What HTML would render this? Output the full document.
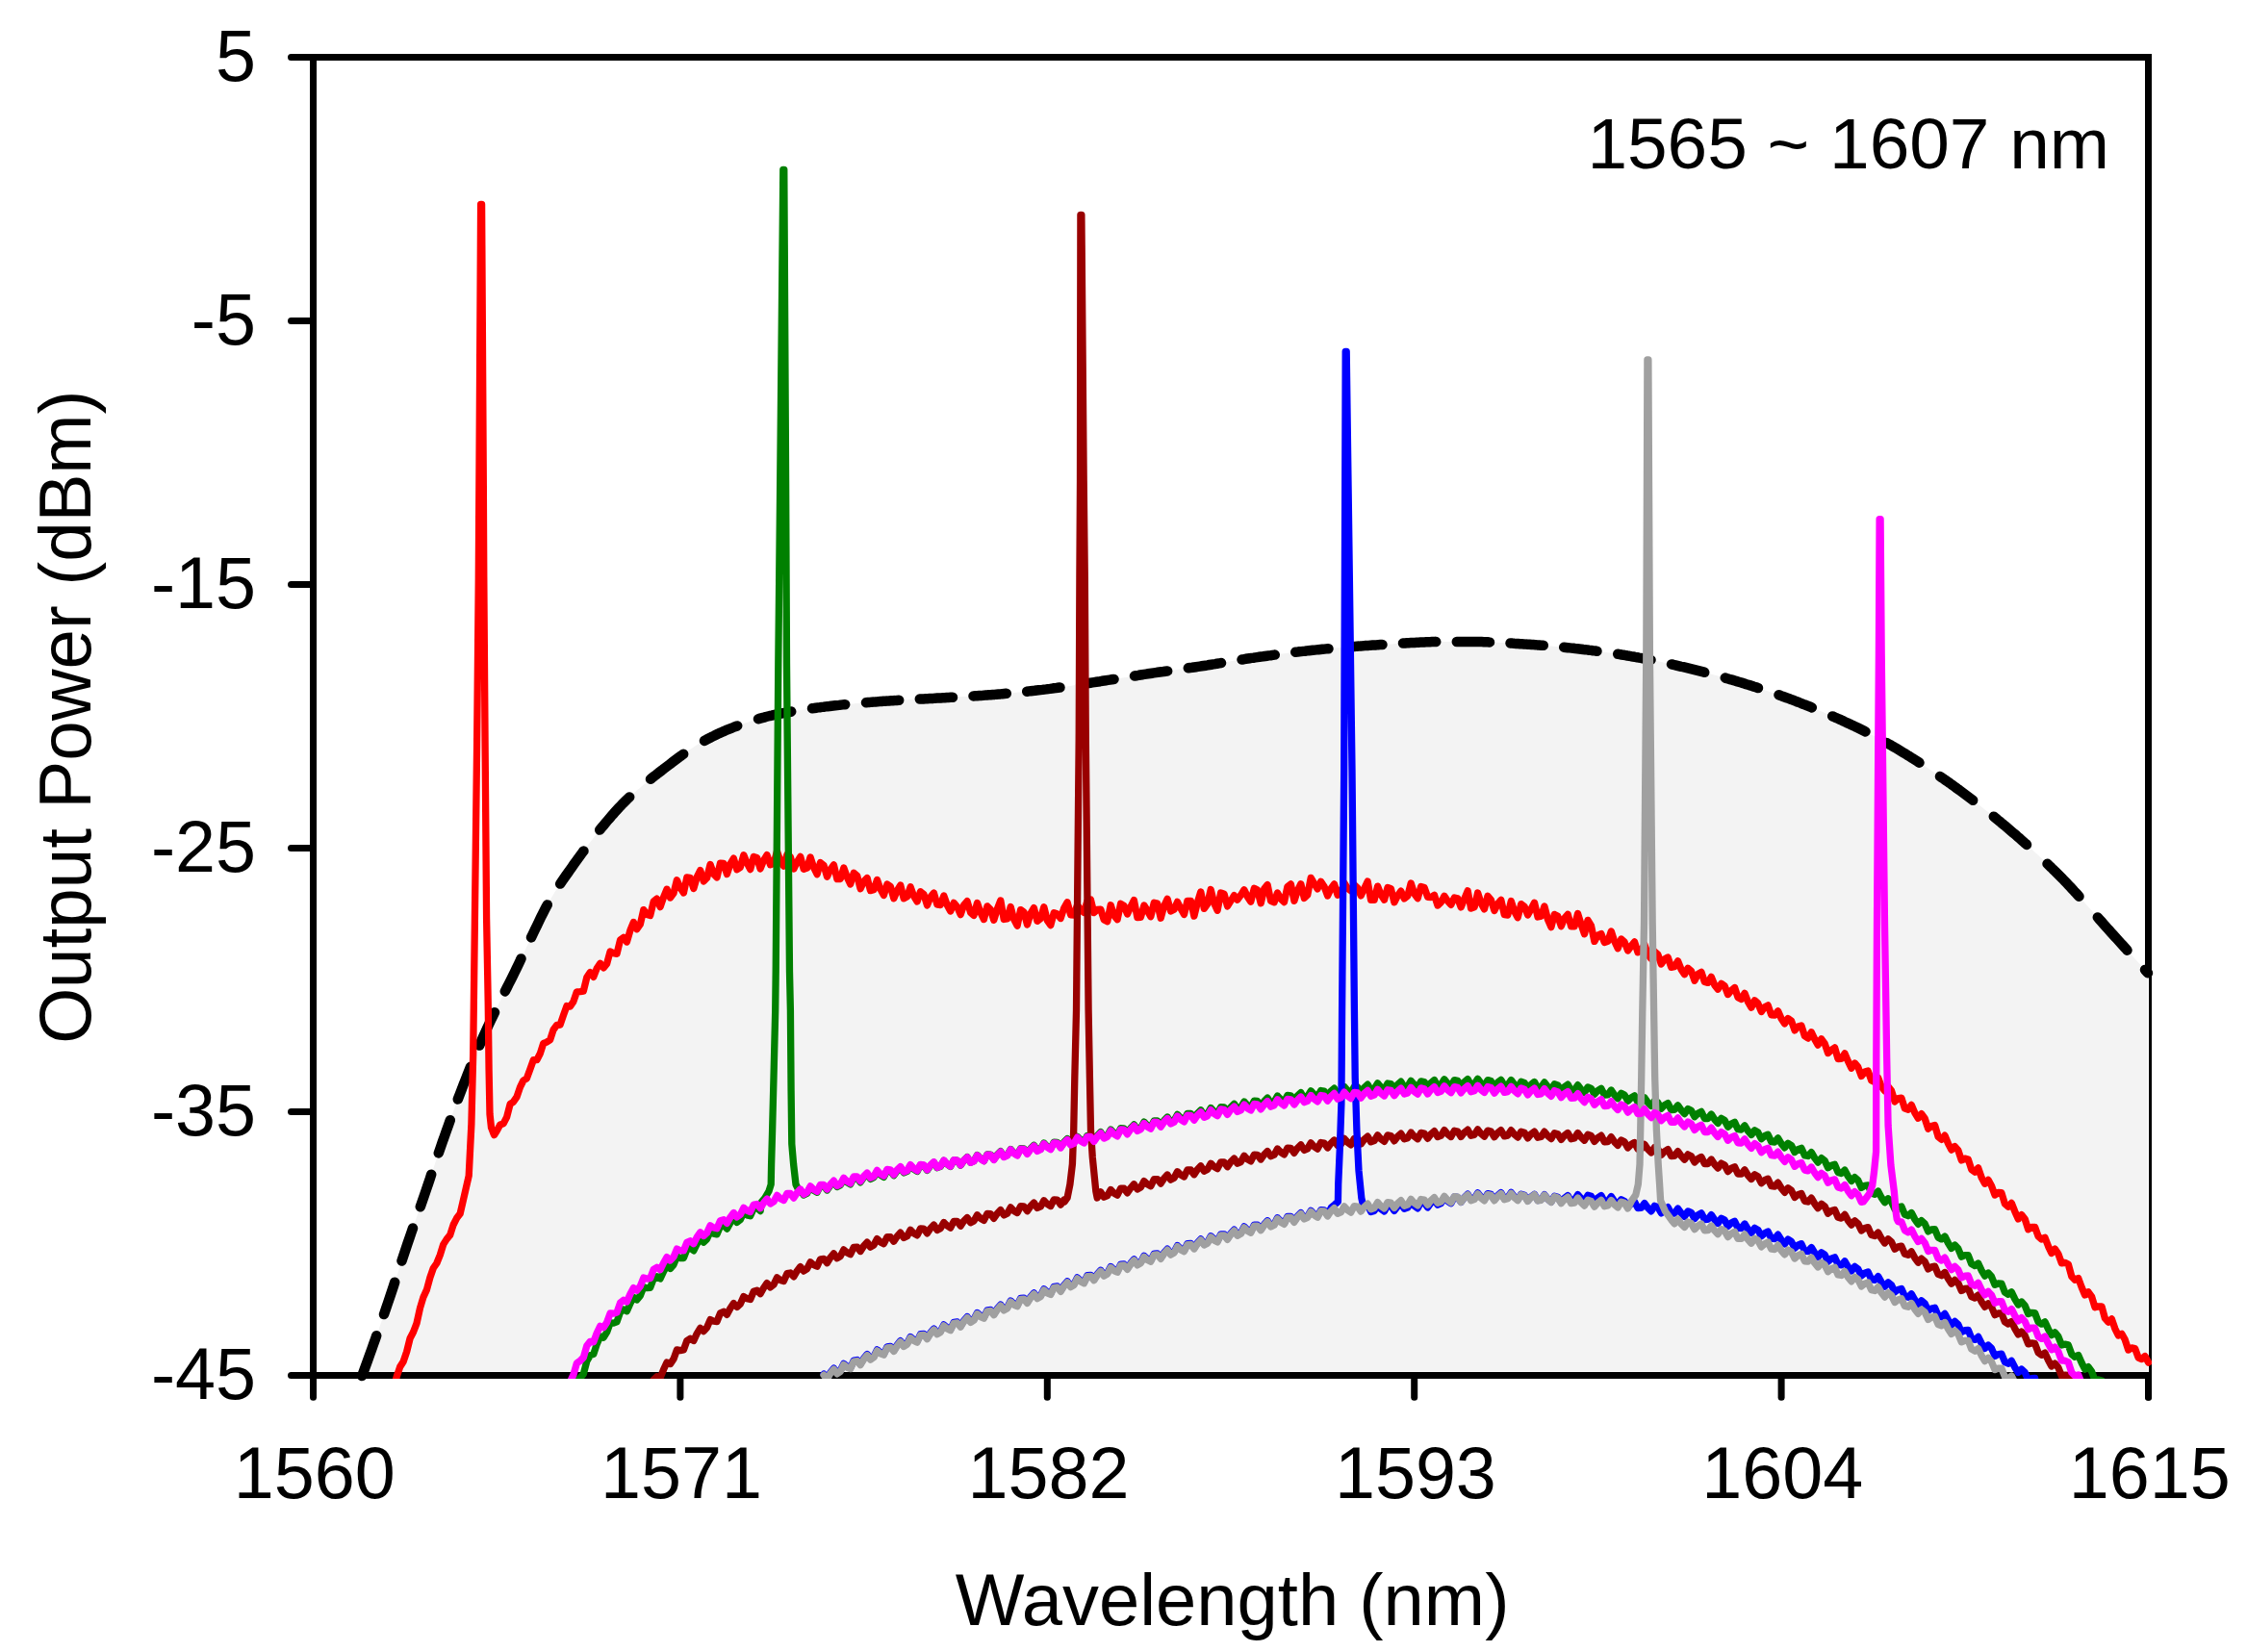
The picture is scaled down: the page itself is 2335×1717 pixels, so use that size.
<!DOCTYPE html>
<html lang="en"><head><meta charset="utf-8"><title>Output Power vs Wavelength</title>
<style>html,body{margin:0;padding:0;background:#fff}svg{display:block}</style></head>
<body>
<svg width="2335" height="1717" viewBox="0 0 2335 1717">
<rect width="2335" height="1717" fill="#fff"/>
<path d="M302.5,59.4 H2232.5 V1452.3" fill="none" stroke="#000" stroke-width="7" stroke-linecap="round" stroke-linejoin="miter"/>
<rect x="2228" y="1011" width="5" height="416" fill="#fff"/>
<path d="M376.3,1425.4 L376.3,1429.9 L378.3,1424.4 L380.3,1419.0 L382.3,1413.4 L384.3,1407.9 L386.3,1402.3 L388.3,1396.7 L390.3,1391.0 L392.3,1385.3 L394.3,1379.6 L396.3,1373.9 L398.3,1368.1 L400.3,1362.3 L402.3,1356.5 L404.3,1350.6 L406.3,1344.6 L408.3,1338.6 L410.3,1332.5 L412.3,1326.4 L414.3,1320.3 L416.3,1314.2 L418.3,1308.1 L420.3,1302.0 L422.3,1296.1 L424.3,1290.2 L426.3,1284.3 L428.3,1278.6 L430.3,1272.8 L432.3,1267.1 L434.3,1261.3 L436.3,1255.6 L438.3,1249.8 L440.3,1244.1 L442.3,1238.2 L444.3,1232.4 L446.3,1226.5 L448.3,1220.5 L450.3,1214.6 L452.3,1208.6 L454.3,1202.7 L456.3,1196.8 L458.3,1191.0 L460.3,1185.3 L462.3,1179.6 L464.3,1174.0 L466.3,1168.4 L468.3,1162.8 L470.3,1157.3 L472.3,1151.8 L474.3,1146.4 L476.3,1141.1 L478.3,1135.8 L480.3,1130.6 L482.3,1125.5 L484.3,1120.4 L486.3,1115.4 L488.3,1110.4 L490.3,1105.5 L492.3,1100.6 L494.3,1095.8 L496.3,1091.1 L498.3,1086.5 L500.3,1081.9 L502.3,1077.4 L504.3,1072.9 L506.3,1068.6 L508.3,1064.3 L510.3,1060.0 L512.3,1055.7 L514.3,1051.5 L516.3,1047.4 L518.3,1043.3 L520.3,1039.2 L522.3,1035.2 L524.3,1031.3 L526.3,1027.3 L528.3,1023.4 L530.3,1019.4 L532.3,1015.5 L534.3,1011.4 L536.3,1007.3 L538.3,1003.2 L540.3,999.0 L542.3,994.8 L544.3,990.5 L546.3,986.3 L548.3,982.1 L550.3,977.9 L552.3,973.8 L554.3,969.7 L556.3,965.5 L558.3,961.3 L560.3,957.1 L562.3,953.0 L564.3,949.0 L566.3,945.0 L568.3,941.2 L570.3,937.6 L572.3,934.2 L574.3,930.9 L576.3,927.6 L578.3,924.5 L580.3,921.5 L582.3,918.5 L584.3,915.6 L586.3,912.7 L588.3,909.8 L590.3,907.0 L592.3,904.2 L594.3,901.4 L596.3,898.6 L598.3,895.8 L600.3,893.0 L602.3,890.2 L604.3,887.4 L606.3,884.7 L608.3,882.0 L610.3,879.3 L612.3,876.6 L614.3,874.0 L616.3,871.4 L618.3,868.8 L620.3,866.3 L622.3,863.8 L624.3,861.3 L626.3,858.9 L628.3,856.5 L630.3,854.1 L632.3,851.8 L634.3,849.4 L636.3,847.1 L638.3,844.9 L640.3,842.6 L642.3,840.4 L644.3,838.3 L646.3,836.2 L648.3,834.1 L650.3,832.2 L652.3,830.2 L654.3,828.3 L656.3,826.5 L658.3,824.6 L660.3,822.9 L662.3,821.1 L664.3,819.4 L666.3,817.7 L668.3,816.0 L670.3,814.4 L672.3,812.7 L674.3,811.1 L676.3,809.5 L678.3,807.9 L680.3,806.4 L682.3,804.8 L684.3,803.3 L686.3,801.8 L688.3,800.2 L690.3,798.7 L692.3,797.2 L694.3,795.7 L696.3,794.1 L698.3,792.6 L700.3,791.1 L702.3,789.6 L704.3,788.1 L706.3,786.6 L708.3,785.1 L710.3,783.7 L712.3,782.3 L714.3,780.9 L716.3,779.5 L718.3,778.2 L720.3,776.8 L722.3,775.6 L724.3,774.3 L726.3,773.1 L728.3,772.0 L730.3,770.8 L732.3,769.7 L734.3,768.7 L736.3,767.6 L738.3,766.6 L740.3,765.6 L742.3,764.6 L744.3,763.6 L746.3,762.7 L748.3,761.8 L750.3,760.9 L752.3,760.0 L754.3,759.1 L756.3,758.3 L758.3,757.4 L760.3,756.6 L762.3,755.9 L764.3,755.1 L766.3,754.4 L768.3,753.6 L770.3,752.9 L772.3,752.2 L774.3,751.6 L776.3,750.9 L778.3,750.2 L780.3,749.6 L782.3,748.9 L784.3,748.3 L786.3,747.7 L788.3,747.1 L790.3,746.6 L792.3,746.0 L794.3,745.5 L796.3,745.0 L798.3,744.5 L800.3,744.0 L802.3,743.5 L804.3,743.1 L806.3,742.7 L808.3,742.3 L810.3,741.9 L812.3,741.5 L814.3,741.1 L816.3,740.7 L818.3,740.3 L820.3,740.0 L822.3,739.6 L824.3,739.3 L826.3,738.9 L828.3,738.6 L830.3,738.3 L832.3,738.0 L834.3,737.7 L836.3,737.4 L838.3,737.1 L840.3,736.8 L842.3,736.5 L844.3,736.2 L846.3,735.9 L848.3,735.7 L850.3,735.4 L852.3,735.1 L854.3,734.9 L856.3,734.6 L858.3,734.4 L860.3,734.2 L862.3,733.9 L864.3,733.7 L866.3,733.5 L868.3,733.3 L870.3,733.0 L872.3,732.8 L874.3,732.6 L876.3,732.4 L878.3,732.2 L880.3,732.0 L882.3,731.8 L884.3,731.6 L886.3,731.4 L888.3,731.2 L890.3,731.1 L892.3,730.9 L894.3,730.7 L896.3,730.5 L898.3,730.4 L900.3,730.2 L902.3,730.0 L904.3,729.9 L906.3,729.7 L908.3,729.5 L910.3,729.4 L912.3,729.2 L914.3,729.1 L916.3,729.0 L918.3,728.8 L920.3,728.7 L922.3,728.5 L924.3,728.4 L926.3,728.3 L928.3,728.2 L930.3,728.0 L932.3,727.9 L934.3,727.8 L936.3,727.7 L938.3,727.6 L940.3,727.5 L942.3,727.4 L944.3,727.3 L946.3,727.1 L948.3,727.0 L950.3,726.9 L952.3,726.8 L954.3,726.7 L956.3,726.6 L958.3,726.5 L960.3,726.4 L962.3,726.3 L964.3,726.2 L966.3,726.1 L968.3,725.9 L970.3,725.8 L972.3,725.7 L974.3,725.6 L976.3,725.5 L978.3,725.4 L980.3,725.2 L982.3,725.1 L984.3,725.0 L986.3,724.9 L988.3,724.8 L990.3,724.7 L992.3,724.6 L994.3,724.4 L996.3,724.3 L998.3,724.2 L1000.3,724.1 L1002.3,724.0 L1004.3,723.9 L1006.3,723.8 L1008.3,723.6 L1010.3,723.5 L1012.3,723.4 L1014.3,723.3 L1016.3,723.1 L1018.3,723.0 L1020.3,722.9 L1022.3,722.7 L1024.3,722.6 L1026.3,722.4 L1028.3,722.3 L1030.3,722.1 L1032.3,722.0 L1034.3,721.8 L1036.3,721.6 L1038.3,721.5 L1040.3,721.3 L1042.3,721.1 L1044.3,720.9 L1046.3,720.8 L1048.3,720.6 L1050.3,720.4 L1052.3,720.2 L1054.3,720.0 L1056.3,719.8 L1058.3,719.6 L1060.3,719.4 L1062.3,719.2 L1064.3,719.0 L1066.3,718.8 L1068.3,718.5 L1070.3,718.3 L1072.3,718.1 L1074.3,717.9 L1076.3,717.7 L1078.3,717.4 L1080.3,717.2 L1082.3,717.0 L1084.3,716.7 L1086.3,716.5 L1088.3,716.2 L1090.3,716.0 L1092.3,715.7 L1094.3,715.5 L1096.3,715.2 L1098.3,714.9 L1100.3,714.7 L1102.3,714.4 L1104.3,714.1 L1106.3,713.8 L1108.3,713.5 L1110.3,713.2 L1112.3,712.9 L1114.3,712.6 L1116.3,712.3 L1118.3,712.0 L1120.3,711.7 L1122.3,711.4 L1124.3,711.1 L1126.3,710.8 L1128.3,710.5 L1130.3,710.1 L1132.3,709.8 L1134.3,709.5 L1136.3,709.2 L1138.3,708.9 L1140.3,708.6 L1142.3,708.3 L1144.3,708.0 L1146.3,707.7 L1148.3,707.4 L1150.3,707.1 L1152.3,706.8 L1154.3,706.4 L1156.3,706.1 L1158.3,705.8 L1160.3,705.5 L1162.3,705.2 L1164.3,704.9 L1166.3,704.5 L1168.3,704.2 L1170.3,703.9 L1172.3,703.6 L1174.3,703.2 L1176.3,702.9 L1178.3,702.6 L1180.3,702.3 L1182.3,702.0 L1184.3,701.7 L1186.3,701.3 L1188.3,701.0 L1190.3,700.7 L1192.3,700.4 L1194.3,700.1 L1196.3,699.8 L1198.3,699.5 L1200.3,699.2 L1202.3,698.9 L1204.3,698.6 L1206.3,698.3 L1208.3,698.1 L1210.3,697.8 L1212.3,697.5 L1214.3,697.2 L1216.3,696.9 L1218.3,696.6 L1220.3,696.4 L1222.3,696.1 L1224.3,695.8 L1226.3,695.5 L1228.3,695.2 L1230.3,695.0 L1232.3,694.7 L1234.3,694.4 L1236.3,694.1 L1238.3,693.8 L1240.3,693.5 L1242.3,693.2 L1244.3,692.9 L1246.3,692.6 L1248.3,692.3 L1250.3,692.0 L1252.3,691.7 L1254.3,691.4 L1256.3,691.1 L1258.3,690.8 L1260.3,690.5 L1262.3,690.1 L1264.3,689.8 L1266.3,689.5 L1268.3,689.1 L1270.3,688.8 L1272.3,688.5 L1274.3,688.1 L1276.3,687.8 L1278.3,687.5 L1280.3,687.1 L1282.3,686.8 L1284.3,686.5 L1286.3,686.1 L1288.3,685.8 L1290.3,685.5 L1292.3,685.2 L1294.3,684.9 L1296.3,684.6 L1298.3,684.3 L1300.3,684.0 L1302.3,683.7 L1304.3,683.4 L1306.3,683.1 L1308.3,682.8 L1310.3,682.6 L1312.3,682.3 L1314.3,682.0 L1316.3,681.7 L1318.3,681.5 L1320.3,681.2 L1322.3,680.9 L1324.3,680.6 L1326.3,680.4 L1328.3,680.1 L1330.3,679.8 L1332.3,679.6 L1334.3,679.3 L1336.3,679.1 L1338.3,678.8 L1340.3,678.6 L1342.3,678.3 L1344.3,678.1 L1346.3,677.8 L1348.3,677.6 L1350.3,677.3 L1352.3,677.1 L1354.3,676.9 L1356.3,676.6 L1358.3,676.4 L1360.3,676.2 L1362.3,676.0 L1364.3,675.8 L1366.3,675.6 L1368.3,675.4 L1370.3,675.2 L1372.3,675.0 L1374.3,674.8 L1376.3,674.6 L1378.3,674.4 L1380.3,674.2 L1382.3,674.0 L1384.3,673.9 L1386.3,673.7 L1388.3,673.5 L1390.3,673.3 L1392.3,673.2 L1394.3,673.0 L1396.3,672.8 L1398.3,672.7 L1400.3,672.5 L1402.3,672.3 L1404.3,672.2 L1406.3,672.0 L1408.3,671.9 L1410.3,671.7 L1412.3,671.6 L1414.3,671.4 L1416.3,671.3 L1418.3,671.1 L1420.3,671.0 L1422.3,670.9 L1424.3,670.7 L1426.3,670.6 L1428.3,670.5 L1430.3,670.3 L1432.3,670.2 L1434.3,670.1 L1436.3,670.0 L1438.3,669.9 L1440.3,669.7 L1442.3,669.6 L1444.3,669.5 L1446.3,669.4 L1448.3,669.2 L1450.3,669.1 L1452.3,669.0 L1454.3,668.8 L1456.3,668.7 L1458.3,668.6 L1460.3,668.5 L1462.3,668.3 L1464.3,668.2 L1466.3,668.1 L1468.3,668.0 L1470.3,667.9 L1472.3,667.8 L1474.3,667.7 L1476.3,667.6 L1478.3,667.5 L1480.3,667.4 L1482.3,667.3 L1484.3,667.2 L1486.3,667.2 L1488.3,667.1 L1490.3,667.1 L1492.3,667.0 L1494.3,667.0 L1496.3,667.0 L1498.3,667.0 L1500.3,667.0 L1502.3,667.0 L1504.3,667.0 L1506.3,667.0 L1508.3,667.0 L1510.3,667.0 L1512.3,667.0 L1514.3,667.0 L1516.3,667.0 L1518.3,667.0 L1520.3,667.0 L1522.3,667.0 L1524.3,667.0 L1526.3,667.0 L1528.3,667.0 L1530.3,667.0 L1532.3,667.0 L1534.3,667.0 L1536.3,667.1 L1538.3,667.1 L1540.3,667.1 L1542.3,667.2 L1544.3,667.3 L1546.3,667.3 L1548.3,667.4 L1550.3,667.5 L1552.3,667.6 L1554.3,667.7 L1556.3,667.8 L1558.3,667.9 L1560.3,668.0 L1562.3,668.1 L1564.3,668.2 L1566.3,668.3 L1568.3,668.4 L1570.3,668.6 L1572.3,668.7 L1574.3,668.8 L1576.3,669.0 L1578.3,669.1 L1580.3,669.2 L1582.3,669.4 L1584.3,669.5 L1586.3,669.6 L1588.3,669.8 L1590.3,669.9 L1592.3,670.0 L1594.3,670.2 L1596.3,670.3 L1598.3,670.4 L1600.3,670.6 L1602.3,670.7 L1604.3,670.9 L1606.3,671.0 L1608.3,671.2 L1610.3,671.4 L1612.3,671.6 L1614.3,671.7 L1616.3,671.9 L1618.3,672.1 L1620.3,672.3 L1622.3,672.5 L1624.3,672.7 L1626.3,672.9 L1628.3,673.1 L1630.3,673.3 L1632.3,673.5 L1634.3,673.7 L1636.3,674.0 L1638.3,674.2 L1640.3,674.4 L1642.3,674.6 L1644.3,674.9 L1646.3,675.1 L1648.3,675.3 L1650.3,675.6 L1652.3,675.8 L1654.3,676.0 L1656.3,676.3 L1658.3,676.5 L1660.3,676.8 L1662.3,677.1 L1664.3,677.3 L1666.3,677.6 L1668.3,677.9 L1670.3,678.2 L1672.3,678.5 L1674.3,678.8 L1676.3,679.1 L1678.3,679.4 L1680.3,679.7 L1682.3,680.0 L1684.3,680.3 L1686.3,680.6 L1688.3,681.0 L1690.3,681.3 L1692.3,681.6 L1694.3,682.0 L1696.3,682.3 L1698.3,682.7 L1700.3,683.0 L1702.3,683.4 L1704.3,683.8 L1706.3,684.1 L1708.3,684.5 L1710.3,684.9 L1712.3,685.2 L1714.3,685.6 L1716.3,686.0 L1718.3,686.4 L1720.3,686.8 L1722.3,687.2 L1724.3,687.6 L1726.3,688.1 L1728.3,688.5 L1730.3,688.9 L1732.3,689.4 L1734.3,689.8 L1736.3,690.3 L1738.3,690.7 L1740.3,691.2 L1742.3,691.6 L1744.3,692.1 L1746.3,692.6 L1748.3,693.1 L1750.3,693.5 L1752.3,694.0 L1754.3,694.5 L1756.3,695.0 L1758.3,695.5 L1760.3,696.0 L1762.3,696.5 L1764.3,697.0 L1766.3,697.5 L1768.3,698.0 L1770.3,698.6 L1772.3,699.1 L1774.3,699.6 L1776.3,700.1 L1778.3,700.7 L1780.3,701.2 L1782.3,701.7 L1784.3,702.3 L1786.3,702.8 L1788.3,703.4 L1790.3,703.9 L1792.3,704.5 L1794.3,705.1 L1796.3,705.6 L1798.3,706.2 L1800.3,706.8 L1802.3,707.4 L1804.3,708.0 L1806.3,708.6 L1808.3,709.2 L1810.3,709.8 L1812.3,710.4 L1814.3,711.0 L1816.3,711.6 L1818.3,712.3 L1820.3,712.9 L1822.3,713.5 L1824.3,714.2 L1826.3,714.8 L1828.3,715.5 L1830.3,716.1 L1832.3,716.8 L1834.3,717.4 L1836.3,718.1 L1838.3,718.8 L1840.3,719.5 L1842.3,720.1 L1844.3,720.8 L1846.3,721.5 L1848.3,722.2 L1850.3,723.0 L1852.3,723.7 L1854.3,724.4 L1856.3,725.1 L1858.3,725.9 L1860.3,726.6 L1862.3,727.4 L1864.3,728.1 L1866.3,728.9 L1868.3,729.6 L1870.3,730.4 L1872.3,731.2 L1874.3,732.0 L1876.3,732.8 L1878.3,733.6 L1880.3,734.4 L1882.3,735.2 L1884.3,736.0 L1886.3,736.8 L1888.3,737.6 L1890.3,738.5 L1892.3,739.3 L1894.3,740.1 L1896.3,741.0 L1898.3,741.8 L1900.3,742.7 L1902.3,743.5 L1904.3,744.4 L1906.3,745.3 L1908.3,746.2 L1910.3,747.1 L1912.3,748.0 L1914.3,748.9 L1916.3,749.8 L1918.3,750.7 L1920.3,751.6 L1922.3,752.6 L1924.3,753.5 L1926.3,754.4 L1928.3,755.4 L1930.3,756.4 L1932.3,757.3 L1934.3,758.3 L1936.3,759.3 L1938.3,760.3 L1940.3,761.3 L1942.3,762.3 L1944.3,763.4 L1946.3,764.4 L1948.3,765.4 L1950.3,766.5 L1952.3,767.6 L1954.3,768.6 L1956.3,769.7 L1958.3,770.8 L1960.3,771.9 L1962.3,773.0 L1964.3,774.2 L1966.3,775.3 L1968.3,776.5 L1970.3,777.6 L1972.3,778.8 L1974.3,780.0 L1976.3,781.2 L1978.3,782.4 L1980.3,783.7 L1982.3,784.9 L1984.3,786.2 L1986.3,787.4 L1988.3,788.7 L1990.3,790.0 L1992.3,791.2 L1994.3,792.5 L1996.3,793.8 L1998.3,795.1 L2000.3,796.5 L2002.3,797.8 L2004.3,799.1 L2006.3,800.4 L2008.3,801.8 L2010.3,803.1 L2012.3,804.5 L2014.3,805.8 L2016.3,807.2 L2018.3,808.6 L2020.3,810.0 L2022.3,811.3 L2024.3,812.7 L2026.3,814.2 L2028.3,815.6 L2030.3,817.0 L2032.3,818.4 L2034.3,819.9 L2036.3,821.4 L2038.3,822.8 L2040.3,824.3 L2042.3,825.8 L2044.3,827.3 L2046.3,828.8 L2048.3,830.3 L2050.3,831.8 L2052.3,833.4 L2054.3,834.9 L2056.3,836.4 L2058.3,838.0 L2060.3,839.6 L2062.3,841.2 L2064.3,842.7 L2066.3,844.3 L2068.3,845.9 L2070.3,847.5 L2072.3,849.2 L2074.3,850.8 L2076.3,852.4 L2078.3,854.1 L2080.3,855.7 L2082.3,857.4 L2084.3,859.1 L2086.3,860.7 L2088.3,862.4 L2090.3,864.1 L2092.3,865.9 L2094.3,867.6 L2096.3,869.3 L2098.3,871.1 L2100.3,872.8 L2102.3,874.6 L2104.3,876.3 L2106.3,878.1 L2108.3,879.9 L2110.3,881.7 L2112.3,883.6 L2114.3,885.4 L2116.3,887.2 L2118.3,889.1 L2120.3,891.0 L2122.3,892.8 L2124.3,894.7 L2126.3,896.6 L2128.3,898.5 L2130.3,900.5 L2132.3,902.4 L2134.3,904.4 L2136.3,906.3 L2138.3,908.3 L2140.3,910.3 L2142.3,912.3 L2144.3,914.4 L2146.3,916.4 L2148.3,918.5 L2150.3,920.7 L2152.3,922.8 L2154.3,925.0 L2156.3,927.1 L2158.3,929.3 L2160.3,931.5 L2162.3,933.7 L2164.3,936.0 L2166.3,938.2 L2168.3,940.4 L2170.3,942.7 L2172.3,945.0 L2174.3,947.2 L2176.3,949.5 L2178.3,951.8 L2180.3,954.0 L2182.3,956.3 L2184.3,958.6 L2186.3,960.8 L2188.3,963.1 L2190.3,965.3 L2192.3,967.6 L2194.3,969.8 L2196.3,972.0 L2198.3,974.2 L2200.3,976.4 L2202.3,978.6 L2204.3,980.8 L2206.3,983.0 L2208.3,985.2 L2210.3,987.4 L2212.3,989.6 L2214.3,991.8 L2216.3,994.0 L2218.3,996.2 L2220.3,998.4 L2222.3,1000.6 L2224.3,1002.8 L2226.3,1005.0 L2228.3,1007.2 L2230.3,1009.4 L2231.7,1010.0 L2231.7,1425.4Z" fill="#f3f3f3"/>
<g stroke="#000" stroke-width="7" stroke-linecap="round" fill="none">
<path d="M325.5,59.4 V1452.3"/>
<path d="M302.5,1429.6 H2232.5"/>
<path d="M302.5,333.4 H325.5"/>
<path d="M302.5,607.5 H325.5"/>
<path d="M302.5,881.5 H325.5"/>
<path d="M302.5,1155.6 H325.5"/>
<path d="M706.9,1429.6 V1452.3"/>
<path d="M1088.3,1429.6 V1452.3"/>
<path d="M1469.7,1429.6 V1452.3"/>
<path d="M1851.1,1429.6 V1452.3"/>
<path d="M2232.5,1429.6 V1452.3"/>
</g>
<path d="M376.2,1430.0 L378.2,1424.6 L380.2,1419.1 L382.2,1413.6 L384.2,1408.0 L386.2,1402.4 L388.2,1396.8 L390.2,1391.2 L391.2,1388.3 M399.0,1366.1 L401.0,1360.3 L403.0,1354.4 L405.0,1348.5 L407.0,1342.5 L409.0,1336.5 L410.2,1332.7 M417.5,1310.5 L419.5,1304.5 L421.5,1298.5 L423.5,1292.5 L425.5,1286.7 L427.5,1280.9 L429.0,1276.5 M436.8,1254.3 L438.8,1248.5 L440.8,1242.8 L442.8,1236.9 L444.8,1231.0 L446.8,1225.1 L448.2,1220.7 M455.8,1198.4 L457.8,1192.6 L459.8,1186.8 L461.8,1181.2 L463.8,1175.5 L465.8,1169.9 L467.8,1164.3 L467.8,1164.3 M475.8,1142.5 L477.8,1137.3 L479.8,1132.1 L481.8,1126.9 L483.8,1121.8 L485.8,1116.8 L487.8,1111.8 L489.0,1108.7 M498.2,1086.6 L500.2,1082.0 L502.2,1077.5 L504.2,1073.1 L506.2,1068.7 L508.2,1064.4 L510.2,1060.1 L512.2,1055.9 L514.0,1052.2 M524.8,1030.4 L526.8,1026.5 L528.8,1022.5 L530.8,1018.6 L532.8,1014.6 L534.8,1010.5 L536.8,1006.4 L538.8,1002.2 L540.8,998.0 L541.5,996.4 M552.0,974.4 L554.0,970.3 L556.0,966.1 L558.0,961.9 L560.0,957.8 L562.0,953.6 L564.0,949.6 L566.0,945.6 L568.0,941.8 L568.8,940.4 M582.2,918.6 L584.2,915.6 L586.2,912.7 L588.2,909.9 L590.2,907.1 L592.2,904.3 L594.2,901.5 L596.2,898.6 L598.2,895.8 L600.2,893.0 L602.2,890.2 L604.2,887.5 L606.2,884.7 L606.5,884.4 M623.2,862.6 L625.2,860.2 L627.2,857.8 L629.2,855.4 L631.2,853.0 L633.2,850.7 L635.2,848.3 L637.2,846.1 L639.2,843.8 L641.2,841.6 L643.2,839.4 L645.2,837.3 L647.2,835.2 L649.2,833.2 L651.2,831.2 L653.2,829.3 L654.2,828.4 M676.0,809.8 L678.0,808.2 L680.0,806.6 L682.0,805.1 L684.0,803.5 L686.0,802.0 L688.0,800.5 L690.0,798.9 L692.0,797.4 L694.0,795.9 L696.0,794.4 L698.0,792.8 L700.0,791.3 L702.0,789.8 L704.0,788.3 L706.0,786.8 L708.0,785.4 L710.0,783.9 L710.2,783.7 M732.0,769.9 L734.0,768.8 L736.0,767.8 L738.0,766.8 L740.0,765.7 L742.0,764.8 L744.0,763.8 L746.0,762.8 L748.0,761.9 L750.0,761.0 L752.0,760.1 L754.0,759.2 L756.0,758.4 L758.0,757.6 L760.0,756.8 L762.0,756.0 L764.0,755.2 L766.0,754.5 L766.2,754.4 M788.0,747.2 L790.0,746.6 L792.0,746.1 L794.0,745.6 L796.0,745.0 L798.0,744.5 L800.0,744.0 L802.0,743.6 L804.0,743.1 L806.0,742.7 L808.0,742.3 L810.0,741.9 L812.0,741.5 L814.0,741.1 L816.0,740.8 L818.0,740.4 L820.0,740.0 L822.0,739.7 L822.2,739.6 M844.0,736.2 L846.0,736.0 L848.0,735.7 L850.0,735.4 L852.0,735.2 L854.0,734.9 L856.0,734.7 L858.0,734.4 L860.0,734.2 L862.0,734.0 L864.0,733.7 L866.0,733.5 L868.0,733.3 L870.0,733.1 L872.0,732.9 L874.0,732.6 L876.0,732.4 L878.0,732.2 L878.2,732.2 M900.0,730.2 L902.0,730.0 L904.0,729.9 L906.0,729.7 L908.0,729.6 L910.0,729.4 L912.0,729.3 L914.0,729.1 L916.0,729.0 L918.0,728.8 L920.0,728.7 L922.0,728.6 L924.0,728.4 L926.0,728.3 L928.0,728.2 L930.0,728.1 L932.0,727.9 L934.0,727.8 L934.2,727.8 M955.8,726.6 L957.8,726.5 L959.8,726.4 L961.8,726.3 L963.8,726.2 L965.8,726.1 L967.8,726.0 L969.8,725.9 L971.8,725.7 L973.8,725.6 L975.8,725.5 L977.8,725.4 L979.8,725.3 L981.8,725.2 L983.8,725.0 L985.8,724.9 L987.8,724.8 L989.8,724.7 L990.0,724.7 M1011.5,723.4 L1013.5,723.3 L1015.5,723.2 L1017.5,723.0 L1019.5,722.9 L1021.5,722.8 L1023.5,722.6 L1025.5,722.5 L1027.5,722.3 L1029.5,722.2 L1031.5,722.0 L1033.5,721.9 L1035.5,721.7 L1037.5,721.5 L1039.5,721.4 L1041.5,721.2 L1043.5,721.0 L1045.5,720.8 L1045.8,720.8 M1067.2,718.7 L1069.2,718.4 L1071.2,718.2 L1073.2,718.0 L1075.2,717.8 L1077.2,717.5 L1079.2,717.3 L1081.2,717.1 L1083.2,716.9 L1085.2,716.6 L1087.2,716.4 L1089.2,716.1 L1091.2,715.9 L1093.2,715.6 L1095.2,715.3 L1097.2,715.1 L1099.2,714.8 L1101.2,714.5 L1101.5,714.5 M1123.2,711.2 L1125.2,710.9 L1127.2,710.6 L1129.2,710.3 L1131.2,710.0 L1133.2,709.7 L1135.2,709.4 L1137.2,709.1 L1139.2,708.8 L1141.2,708.5 L1143.2,708.2 L1145.2,707.8 L1147.2,707.5 L1149.2,707.2 L1151.2,706.9 L1153.2,706.6 L1155.2,706.3 L1157.2,706.0 L1157.5,705.9 M1179.0,702.5 L1181.0,702.2 L1183.0,701.9 L1185.0,701.5 L1187.0,701.2 L1189.0,700.9 L1191.0,700.6 L1193.0,700.3 L1195.0,700.0 L1197.0,699.7 L1199.0,699.4 L1201.0,699.1 L1203.0,698.8 L1205.0,698.5 L1207.0,698.2 L1209.0,698.0 L1211.0,697.7 L1213.0,697.4 L1213.2,697.4 M1234.8,694.3 L1236.8,694.0 L1238.8,693.8 L1240.8,693.5 L1242.8,693.2 L1244.8,692.9 L1246.8,692.6 L1248.8,692.3 L1250.8,692.0 L1252.8,691.7 L1254.8,691.4 L1256.8,691.0 L1258.8,690.7 L1260.8,690.4 L1262.8,690.1 L1264.8,689.7 L1266.8,689.4 L1268.8,689.1 L1269.0,689.0 M1290.5,685.5 L1292.5,685.2 L1294.5,684.8 L1296.5,684.5 L1298.5,684.2 L1300.5,683.9 L1302.5,683.7 L1304.5,683.4 L1306.5,683.1 L1308.5,682.8 L1310.5,682.5 L1312.5,682.3 L1314.5,682.0 L1316.5,681.7 L1318.5,681.4 L1320.5,681.2 L1322.5,680.9 L1324.5,680.6 L1324.8,680.6 M1346.2,677.8 L1348.2,677.6 L1350.2,677.3 L1352.2,677.1 L1354.2,676.9 L1356.2,676.7 L1358.2,676.4 L1360.2,676.2 L1362.2,676.0 L1364.2,675.8 L1366.2,675.6 L1368.2,675.4 L1370.2,675.2 L1372.2,675.0 L1374.2,674.8 L1376.2,674.6 L1378.2,674.4 L1380.2,674.2 L1380.5,674.2 M1402.2,672.3 L1404.2,672.2 L1406.2,672.0 L1408.2,671.9 L1410.2,671.7 L1412.2,671.6 L1414.2,671.4 L1416.2,671.3 L1418.2,671.1 L1420.2,671.0 L1422.2,670.9 L1424.2,670.7 L1426.2,670.6 L1428.2,670.5 L1430.2,670.4 L1432.2,670.2 L1434.2,670.1 L1436.2,670.0 L1436.5,670.0 M1458.0,668.6 L1460.0,668.5 L1462.0,668.3 L1464.0,668.2 L1466.0,668.1 L1468.0,668.0 L1470.0,667.9 L1472.0,667.8 L1474.0,667.7 L1476.0,667.6 L1478.0,667.5 L1480.0,667.4 L1482.0,667.3 L1484.0,667.3 L1486.0,667.2 L1488.0,667.1 L1490.0,667.1 L1492.0,667.1 L1492.2,667.0 M1513.8,667.0 L1515.8,667.0 L1517.8,667.0 L1519.8,667.0 L1521.8,667.0 L1523.8,667.0 L1525.8,667.0 L1527.8,667.0 L1529.8,667.0 L1531.8,667.0 L1533.8,667.0 L1535.8,667.0 L1537.8,667.1 L1539.8,667.1 L1541.8,667.2 L1543.8,667.2 L1545.8,667.3 L1547.8,667.4 L1548.0,667.4 M1569.5,668.5 L1571.5,668.6 L1573.5,668.8 L1575.5,668.9 L1577.5,669.0 L1579.5,669.2 L1581.5,669.3 L1583.5,669.4 L1585.5,669.6 L1587.5,669.7 L1589.5,669.8 L1591.5,670.0 L1593.5,670.1 L1595.5,670.2 L1597.5,670.4 L1599.5,670.5 L1601.5,670.7 L1603.5,670.8 L1603.8,670.8 M1625.2,672.8 L1627.2,673.0 L1629.2,673.2 L1631.2,673.4 L1633.2,673.6 L1635.2,673.8 L1637.2,674.1 L1639.2,674.3 L1641.2,674.5 L1643.2,674.7 L1645.2,675.0 L1647.2,675.2 L1649.2,675.4 L1651.2,675.7 L1653.2,675.9 L1655.2,676.2 L1657.2,676.4 L1659.2,676.7 L1659.5,676.7 M1681.2,679.8 L1683.2,680.1 L1685.2,680.5 L1687.2,680.8 L1689.2,681.1 L1691.2,681.5 L1693.2,681.8 L1695.2,682.2 L1697.2,682.5 L1699.2,682.9 L1701.2,683.2 L1703.2,683.6 L1705.2,683.9 L1707.2,684.3 L1709.2,684.7 L1711.2,685.0 L1713.2,685.4 L1715.2,685.8 L1715.5,685.9 M1737.0,690.4 L1739.0,690.9 L1741.0,691.3 L1743.0,691.8 L1745.0,692.3 L1747.0,692.8 L1749.0,693.2 L1751.0,693.7 L1753.0,694.2 L1755.0,694.7 L1757.0,695.2 L1759.0,695.7 L1761.0,696.2 L1763.0,696.7 L1765.0,697.2 L1767.0,697.7 L1769.0,698.2 L1771.0,698.7 L1771.2,698.8 M1792.8,704.6 L1794.8,705.2 L1796.8,705.8 L1798.8,706.3 L1800.8,706.9 L1802.8,707.5 L1804.8,708.1 L1806.8,708.7 L1808.8,709.3 L1810.8,709.9 L1812.8,710.5 L1814.8,711.2 L1816.8,711.8 L1818.8,712.4 L1820.8,713.0 L1822.8,713.7 L1824.8,714.3 L1826.8,715.0 L1827.0,715.0 M1848.5,722.3 L1850.5,723.0 L1852.5,723.8 L1854.5,724.5 L1856.5,725.2 L1858.5,725.9 L1860.5,726.7 L1862.5,727.4 L1864.5,728.2 L1866.5,729.0 L1868.5,729.7 L1870.5,730.5 L1872.5,731.3 L1874.5,732.1 L1876.5,732.8 L1878.5,733.6 L1880.5,734.4 L1882.5,735.3 L1882.8,735.4 M1904.2,744.4 L1906.2,745.3 L1908.2,746.2 L1910.2,747.0 L1912.2,747.9 L1914.2,748.8 L1916.2,749.8 L1918.2,750.7 L1920.2,751.6 L1922.2,752.5 L1924.2,753.5 L1926.2,754.4 L1928.2,755.4 L1930.2,756.3 L1932.2,757.3 L1934.2,758.3 L1936.2,759.3 L1938.2,760.3 L1938.5,760.4 M1960.2,771.9 L1962.2,773.0 L1964.2,774.1 L1966.2,775.3 L1968.2,776.4 L1970.2,777.6 L1972.2,778.8 L1974.2,780.0 L1976.2,781.2 L1978.2,782.4 L1980.2,783.6 L1982.2,784.9 L1984.2,786.1 L1986.2,787.4 L1988.2,788.6 L1990.2,789.9 L1992.2,791.2 L1994.2,792.5 L1994.5,792.7 M2016.0,807.0 L2018.0,808.4 L2020.0,809.7 L2022.0,811.1 L2024.0,812.5 L2026.0,813.9 L2028.0,815.4 L2030.0,816.8 L2032.0,818.2 L2034.0,819.7 L2036.0,821.1 L2038.0,822.6 L2040.0,824.1 L2042.0,825.6 L2044.0,827.1 L2046.0,828.6 L2048.0,830.1 L2050.0,831.6 L2050.2,831.8 M2071.8,848.7 L2073.8,850.3 L2075.8,852.0 L2077.8,853.6 L2079.8,855.3 L2081.8,856.9 L2083.8,858.6 L2085.8,860.3 L2087.8,862.0 L2089.8,863.7 L2091.8,865.4 L2093.8,867.1 L2095.8,868.8 L2097.8,870.6 L2099.8,872.3 L2101.8,874.1 L2103.8,875.9 L2105.8,877.6 L2106.0,877.9 M2127.5,897.8 L2129.5,899.7 L2131.5,901.6 L2133.5,903.6 L2135.5,905.5 L2137.5,907.5 L2139.5,909.5 L2141.5,911.5 L2143.5,913.5 L2145.5,915.6 L2147.5,917.7 L2149.5,919.8 L2151.5,921.9 L2153.5,924.1 L2155.5,926.3 L2157.5,928.4 L2159.5,930.6 L2160.5,931.7 M2179.8,953.4 L2181.8,955.7 L2183.8,957.9 L2185.8,960.2 L2187.8,962.5 L2189.8,964.7 L2191.8,966.9 L2193.8,969.2 L2195.8,971.4 L2197.8,973.6 L2199.8,975.8 L2201.8,978.0 L2203.8,980.2 L2205.8,982.4 L2207.8,984.6 L2209.8,986.8 L2210.5,987.7 M2229.0,1008.0 L2231.0,1010.2 L2232.0,1011.3" stroke="#000" stroke-width="10.5" fill="none" stroke-linecap="round" stroke-linejoin="round"/>
<clipPath id="c"><rect x="325.5" y="59.4" width="1910.6" height="1373.4999999999998"/></clipPath>
<g clip-path="url(#c)" fill="none" stroke-linejoin="round" stroke-linecap="round">
<path d="M405.2,1448.3 L408.7,1443.5 L412.2,1430.9 L415.6,1420.8 L419.1,1415.2 L422.6,1405.0 L426.1,1391.0 L429.5,1384.5 L433.0,1375.4 L436.5,1359.5 L439.9,1348.2 L443.4,1340.6 L446.9,1327.8 L450.3,1318.0 L453.8,1313.0 L457.3,1304.4 L460.7,1293.4 L464.2,1287.9 L467.7,1283.7 L471.1,1273.0 L474.6,1266.1 L478.1,1261.6 L480.8,1250.0 L487.2,1222.0 L489.9,1168.0 L491.7,1095.0 L493.4,955.0 L495.6,775.0 L497.3,600.0 L497.9,500.0 L499.6,212.3 L500.6,212.3 L502.3,500.0 L502.8,600.0 L504.1,775.0 L505.6,955.0 L507.2,1041.0 L508.1,1113.0 L509.0,1158.0 L510.5,1172.0 L513.5,1179.7 L516.2,1175.5 L519.7,1169.0 L523.1,1167.9 L526.6,1161.1 L530.1,1147.6 L533.5,1145.2 L537.0,1140.2 L540.5,1129.8 L543.9,1123.0 L547.4,1120.8 L550.9,1111.3 L554.3,1101.7 L557.8,1101.7 L561.3,1095.0 L564.7,1084.4 L568.2,1083.1 L571.7,1080.7 L575.1,1070.2 L578.6,1065.5 L582.1,1065.1 L585.5,1055.1 L589.0,1045.5 L592.5,1046.1 L595.9,1040.9 L599.4,1030.8 L602.9,1030.6 L606.3,1030.1 L609.8,1015.8 L613.3,1010.6 L616.8,1015.3 L620.2,1006.5 L623.7,1001.3 L627.2,1005.9 L630.6,1001.7 L634.1,988.9 L637.6,990.7 L641.0,991.4 L644.5,977.0 L648.0,974.4 L651.4,979.0 L654.9,967.0 L658.4,958.5 L661.8,965.6 L665.3,960.7 L668.8,945.6 L672.2,950.5 L675.7,951.5 L679.2,936.9 L682.6,934.2 L686.1,942.7 L689.6,932.3 L693.0,924.2 L696.5,933.1 L700.0,928.4 L703.4,914.7 L706.9,922.7 L710.4,928.0 L713.8,912.0 L717.3,912.3 L720.8,923.5 L724.2,911.7 L727.7,904.6 L731.2,915.9 L734.6,912.5 L738.1,898.5 L741.6,908.4 L745.0,911.9 L748.5,897.1 L752.0,897.4 L755.4,908.5 L758.9,898.0 L762.4,892.2 L765.8,903.8 L769.3,901.4 L772.8,888.7 L776.2,896.9 L779.7,903.6 L783.2,890.4 L786.6,891.4 L790.1,903.0 L793.6,894.2 L797.0,888.6 L800.5,898.7 L804.0,897.6 L807.5,884.8 L810.9,895.0 L814.4,900.1 L817.9,888.3 L821.3,890.6 L824.8,903.1 L828.3,895.8 L831.7,890.3 L835.2,903.4 L838.7,902.1 L842.1,890.9 L845.6,901.7 L849.1,908.7 L852.5,896.6 L856.0,899.3 L859.5,911.2 L862.9,903.6 L866.4,898.9 L869.9,913.7 L873.3,913.5 L876.8,902.0 L880.3,911.7 L883.7,918.9 L887.2,907.2 L890.7,910.2 L894.1,923.7 L897.6,916.1 L901.1,912.5 L904.5,925.6 L908.0,924.8 L911.5,914.4 L914.9,924.1 L918.4,930.5 L921.9,919.0 L925.3,921.2 L928.8,933.7 L932.3,925.7 L935.7,920.0 L939.2,933.8 L942.7,931.8 L946.1,921.8 L949.6,931.4 L953.1,937.0 L956.5,926.7 L960.0,929.6 L963.5,940.9 L966.9,932.4 L970.4,928.1 L973.9,940.2 L977.3,940.5 L980.8,931.0 L984.3,940.7 L987.7,947.0 L991.2,938.4 L994.7,942.5 L998.2,950.6 L1001.6,940.6 L1005.1,936.7 L1008.6,948.5 L1012.0,951.4 L1015.5,938.4 L1019.0,948.7 L1022.4,955.5 L1025.9,941.9 L1029.4,945.3 L1032.8,956.3 L1036.3,944.9 L1039.8,935.9 L1043.2,955.5 L1046.7,954.9 L1050.2,942.5 L1053.6,955.4 L1057.1,962.2 L1060.6,945.6 L1064.0,947.9 L1067.5,961.0 L1071.0,949.4 L1074.4,943.6 L1077.9,957.4 L1081.4,954.6 L1084.8,942.7 L1088.3,956.7 L1091.8,961.6 L1095.2,948.7 L1098.7,950.0 L1102.2,954.5 L1105.6,944.0 L1109.1,937.8 L1112.6,950.8 L1116.0,951.1 L1119.5,940.7 L1123.0,945.6 L1126.4,948.3 L1129.9,936.5 L1133.4,935.0 L1136.8,948.6 L1140.3,945.5 L1143.8,945.2 L1147.2,956.0 L1150.7,957.7 L1154.2,940.7 L1157.6,951.5 L1161.1,955.7 L1164.6,939.3 L1168.0,941.3 L1171.5,950.0 L1175.0,942.4 L1178.4,935.6 L1181.9,953.5 L1185.4,953.3 L1188.9,941.0 L1192.3,946.4 L1195.8,952.7 L1199.3,938.2 L1202.7,939.1 L1206.2,954.3 L1209.7,941.6 L1213.1,934.3 L1216.6,947.0 L1220.1,945.2 L1223.5,937.4 L1227.0,944.3 L1230.5,950.5 L1233.9,936.3 L1237.4,936.4 L1240.9,952.1 L1244.3,938.2 L1247.8,926.9 L1251.3,944.4 L1254.7,939.6 L1258.2,924.5 L1261.7,938.7 L1265.1,946.3 L1268.6,928.0 L1272.1,929.2 L1275.5,941.9 L1279.0,936.4 L1282.5,930.7 L1285.9,935.2 L1289.4,930.4 L1292.9,924.8 L1296.3,931.9 L1299.8,937.2 L1303.3,923.3 L1306.7,925.1 L1310.2,938.8 L1313.7,923.8 L1317.1,919.5 L1320.6,936.4 L1324.1,937.8 L1327.5,927.9 L1331.0,934.3 L1334.5,937.6 L1337.9,921.6 L1341.4,918.9 L1344.9,936.3 L1348.3,925.9 L1351.8,918.7 L1355.3,933.5 L1358.7,930.2 L1362.2,912.4 L1365.7,918.4 L1369.1,923.8 L1372.6,916.2 L1376.1,921.5 L1379.6,931.0 L1383.0,923.7 L1386.5,918.9 L1390.0,930.2 L1393.4,927.7 L1396.9,917.7 L1400.4,923.4 L1403.8,925.9 L1407.3,919.7 L1410.8,922.9 L1414.2,930.9 L1417.7,923.5 L1421.2,916.1 L1424.6,935.3 L1428.1,935.4 L1431.6,921.1 L1435.0,929.8 L1438.5,935.2 L1442.0,922.4 L1445.4,923.6 L1448.9,937.8 L1452.4,930.8 L1455.8,926.2 L1459.3,933.9 L1462.8,931.1 L1466.2,918.0 L1469.7,928.8 L1473.2,933.7 L1476.6,921.5 L1480.1,922.5 L1483.6,932.3 L1487.0,932.5 L1490.5,930.3 L1494.0,941.1 L1497.4,937.9 L1500.9,931.3 L1504.4,936.6 L1507.8,940.3 L1511.3,933.0 L1514.8,933.9 L1518.2,942.9 L1521.7,934.3 L1525.2,925.8 L1528.6,944.1 L1532.1,942.8 L1535.6,928.0 L1539.0,938.4 L1542.5,944.9 L1546.0,931.2 L1549.4,935.4 L1552.9,946.5 L1556.4,939.3 L1559.8,935.3 L1563.3,950.6 L1566.8,951.0 L1570.3,936.5 L1573.7,947.2 L1577.2,953.7 L1580.7,939.6 L1584.1,942.1 L1587.6,951.0 L1591.1,944.7 L1594.5,938.2 L1598.0,953.0 L1601.5,952.1 L1604.9,941.9 L1608.4,955.5 L1611.9,963.6 L1615.3,950.4 L1618.8,952.3 L1622.3,962.7 L1625.7,954.3 L1629.2,950.3 L1632.7,962.9 L1636.1,962.9 L1639.6,949.5 L1643.1,960.9 L1646.5,970.8 L1650.0,956.4 L1653.5,962.2 L1656.9,978.4 L1660.4,972.1 L1663.9,970.5 L1667.3,979.5 L1670.8,978.3 L1674.3,967.9 L1677.7,978.3 L1681.2,985.7 L1684.7,976.0 L1688.1,979.0 L1691.6,988.0 L1695.1,983.3 L1698.5,978.9 L1702.0,989.8 L1705.5,988.1 L1708.9,981.6 L1712.4,992.0 L1715.9,996.6 L1719.3,988.9 L1722.8,992.0 L1726.3,1002.1 L1729.7,997.0 L1733.2,995.0 L1736.7,1005.3 L1740.1,1004.7 L1743.6,998.8 L1747.1,1007.7 L1750.5,1012.7 L1754.0,1006.3 L1757.5,1009.3 L1761.0,1019.2 L1764.4,1012.3 L1767.9,1010.3 L1771.4,1020.5 L1774.8,1021.4 L1778.3,1015.4 L1781.8,1023.9 L1785.2,1028.1 L1788.7,1022.3 L1792.2,1024.7 L1795.6,1033.6 L1799.1,1029.5 L1802.6,1026.5 L1806.0,1036.7 L1809.5,1038.4 L1813.0,1032.4 L1816.4,1041.1 L1819.9,1047.2 L1823.4,1039.8 L1826.8,1042.8 L1830.3,1051.5 L1833.8,1046.7 L1837.2,1044.9 L1840.7,1054.9 L1844.2,1055.2 L1847.6,1050.8 L1851.1,1058.7 L1854.6,1063.9 L1858.0,1058.5 L1861.5,1060.9 L1865.0,1070.9 L1868.4,1067.0 L1871.9,1065.9 L1875.4,1076.8 L1878.8,1079.1 L1882.3,1072.7 L1885.8,1080.1 L1889.2,1086.1 L1892.7,1079.8 L1896.2,1084.6 L1899.6,1094.5 L1903.1,1091.3 L1906.6,1088.9 L1910.0,1100.5 L1913.5,1100.4 L1917.0,1094.9 L1920.4,1102.9 L1923.9,1110.1 L1927.4,1105.0 L1930.8,1108.9 L1934.3,1118.4 L1937.8,1114.1 L1941.2,1113.1 L1944.7,1123.0 L1948.2,1124.6 L1951.7,1120.2 L1955.1,1129.2 L1958.6,1133.9 L1962.1,1129.4 L1965.5,1133.6 L1969.0,1144.9 L1972.5,1141.6 L1975.9,1141.2 L1979.4,1152.1 L1982.9,1153.2 L1986.3,1148.4 L1989.8,1156.6 L1993.3,1162.2 L1996.7,1157.7 L2000.2,1162.5 L2003.7,1173.2 L2007.1,1170.6 L2010.6,1169.5 L2014.1,1181.4 L2017.5,1184.3 L2021.0,1180.2 L2024.5,1188.6 L2027.9,1195.1 L2031.4,1191.6 L2034.9,1195.7 L2038.3,1205.9 L2041.8,1204.1 L2045.3,1205.0 L2048.7,1215.5 L2052.2,1218.1 L2055.7,1213.9 L2059.1,1223.7 L2062.6,1230.2 L2066.1,1226.4 L2069.5,1232.5 L2073.0,1242.1 L2076.5,1239.5 L2079.9,1239.7 L2083.4,1251.3 L2086.9,1254.2 L2090.3,1250.4 L2093.8,1259.2 L2097.3,1267.0 L2100.7,1262.6 L2104.2,1267.0 L2107.7,1277.8 L2111.1,1275.3 L2114.6,1275.3 L2118.1,1285.0 L2121.5,1288.0 L2125.0,1286.2 L2128.5,1295.3 L2131.9,1302.4 L2135.4,1298.0 L2138.9,1303.2 L2142.4,1312.9 L2145.8,1312.4 L2149.3,1314.0 L2152.8,1326.8 L2156.2,1330.3 L2159.7,1328.5 L2163.2,1338.0 L2166.6,1346.0 L2170.1,1342.8 L2173.6,1347.6 L2177.0,1358.8 L2180.5,1357.9 L2184.0,1357.8 L2187.4,1370.2 L2190.9,1374.2 L2194.4,1370.9 L2197.8,1380.8 L2201.3,1387.9 L2204.8,1386.2 L2208.2,1392.3 L2211.7,1403.0 L2215.2,1400.9 L2218.6,1401.5 L2222.1,1411.1 L2225.6,1412.6 L2229.0,1409.6 L2232.5,1416.1" stroke="#ff0000" stroke-width="7.3"/>
<path d="M599.4,1434.6 L602.9,1432.2 L606.3,1428.1 L609.8,1414.8 L613.3,1408.6 L616.8,1407.3 L620.2,1397.1 L623.7,1389.0 L627.2,1390.2 L630.6,1384.7 L634.1,1374.9 L637.6,1375.1 L641.0,1373.9 L644.5,1363.9 L648.0,1361.0 L651.4,1362.7 L654.9,1354.7 L658.4,1348.3 L661.8,1350.9 L665.3,1346.6 L668.8,1337.7 L672.2,1338.7 L675.7,1338.3 L679.2,1329.0 L682.6,1326.7 L686.1,1329.0 L689.6,1321.5 L693.0,1315.5 L696.5,1318.5 L700.0,1314.5 L703.4,1306.1 L706.9,1307.5 L710.4,1307.5 L713.8,1298.7 L717.3,1296.9 L720.8,1299.8 L724.2,1292.9 L727.7,1287.5 L731.2,1291.1 L734.6,1287.8 L738.1,1280.0 L741.6,1282.1 L745.0,1282.8 L748.5,1274.6 L752.0,1273.5 L755.4,1277.1 L758.9,1270.9 L762.4,1266.2 L765.8,1270.5 L769.3,1267.7 L772.8,1260.4 L776.2,1262.9 L779.7,1263.8 L783.2,1255.9 L786.6,1254.9 L790.1,1258.6 L791.5,1249.0 L794.9,1245.0 L799.0,1238.0 L801.2,1231.0 L801.6,1210.0 L802.6,1175.0 L804.0,1120.0 L805.7,1050.0 L806.2,1010.0 L808.8,690.0 L810.7,500.0 L813.8,176.3 L814.8,176.3 L816.6,500.0 L817.5,690.0 L820.5,1010.0 L821.4,1050.0 L822.1,1134.0 L822.8,1189.0 L824.6,1210.0 L827.0,1231.0 L830.5,1238.0 L831.7,1237.0 L835.2,1242.1 L838.7,1240.3 L842.1,1233.9 L845.6,1237.3 L849.1,1239.2 L852.5,1232.3 L856.0,1232.4 L859.5,1237.0 L862.9,1231.9 L866.4,1228.2 L869.9,1233.5 L873.3,1231.7 L876.8,1225.4 L880.3,1228.9 L883.7,1230.9 L887.2,1224.0 L890.7,1224.1 L894.1,1228.8 L897.6,1223.7 L901.1,1220.1 L904.5,1225.4 L908.0,1223.7 L911.5,1217.5 L914.9,1221.1 L918.4,1223.3 L921.9,1216.5 L925.3,1216.8 L928.8,1221.7 L932.3,1216.8 L935.7,1213.4 L939.2,1218.9 L942.7,1217.4 L946.1,1211.4 L949.6,1215.2 L953.1,1217.5 L956.5,1210.9 L960.0,1211.3 L963.5,1216.3 L966.9,1211.5 L970.4,1208.1 L973.9,1213.7 L977.3,1212.3 L980.8,1206.3 L984.3,1210.1 L987.7,1212.4 L991.2,1205.8 L994.7,1206.1 L998.2,1211.1 L1001.6,1206.2 L1005.1,1202.7 L1008.6,1208.2 L1012.0,1206.7 L1015.5,1200.6 L1019.0,1204.3 L1022.4,1206.6 L1025.9,1199.9 L1029.4,1200.2 L1032.8,1205.1 L1036.3,1200.1 L1039.8,1196.7 L1043.2,1202.1 L1046.7,1200.6 L1050.2,1194.5 L1053.6,1198.2 L1057.1,1200.3 L1060.6,1193.6 L1064.0,1193.9 L1067.5,1198.8 L1071.0,1193.8 L1074.4,1190.3 L1077.9,1195.7 L1081.4,1194.2 L1084.8,1188.0 L1088.3,1191.7 L1091.8,1193.8 L1095.2,1187.1 L1098.7,1187.3 L1102.2,1192.2 L1105.6,1187.2 L1109.1,1183.7 L1112.6,1189.1 L1116.0,1187.4 L1119.5,1181.3 L1123.0,1184.9 L1126.4,1187.0 L1129.9,1180.3 L1133.4,1180.5 L1136.8,1185.2 L1140.3,1180.2 L1143.8,1176.6 L1147.2,1181.9 L1150.7,1180.2 L1154.2,1174.0 L1157.6,1177.5 L1161.1,1179.6 L1164.6,1172.7 L1168.0,1172.9 L1171.5,1177.6 L1175.0,1172.5 L1178.4,1168.9 L1181.9,1174.1 L1185.4,1172.4 L1188.9,1166.1 L1192.3,1169.7 L1195.8,1171.7 L1199.3,1164.8 L1202.7,1165.0 L1206.2,1169.7 L1209.7,1164.6 L1213.1,1161.0 L1216.6,1166.3 L1220.1,1164.6 L1223.5,1158.4 L1227.0,1162.0 L1230.5,1164.1 L1233.9,1157.3 L1237.4,1157.5 L1240.9,1162.3 L1244.3,1157.3 L1247.8,1153.8 L1251.3,1159.2 L1254.7,1157.7 L1258.2,1151.5 L1261.7,1155.2 L1265.1,1157.3 L1268.6,1150.6 L1272.1,1150.9 L1275.5,1155.7 L1279.0,1150.8 L1282.5,1147.3 L1285.9,1152.7 L1289.4,1151.1 L1292.9,1145.0 L1296.3,1148.7 L1299.8,1150.9 L1303.3,1144.2 L1306.7,1144.5 L1310.2,1149.4 L1313.7,1144.5 L1317.1,1141.1 L1320.6,1146.5 L1324.1,1145.0 L1327.5,1139.0 L1331.0,1142.7 L1334.5,1145.0 L1337.9,1138.4 L1341.4,1138.8 L1344.9,1143.7 L1348.3,1138.9 L1351.8,1135.6 L1355.3,1141.1 L1358.7,1139.7 L1362.2,1133.8 L1365.7,1137.6 L1369.1,1140.0 L1372.6,1133.5 L1376.1,1134.0 L1379.6,1139.1 L1383.0,1134.3 L1386.5,1131.1 L1390.0,1136.7 L1393.4,1135.4 L1396.9,1129.5 L1400.4,1133.4 L1403.8,1135.8 L1407.3,1129.4 L1410.8,1129.9 L1414.2,1135.0 L1417.7,1130.4 L1421.2,1127.2 L1424.6,1132.9 L1428.1,1131.6 L1431.6,1125.8 L1435.0,1129.8 L1438.5,1132.3 L1442.0,1126.0 L1445.4,1126.6 L1448.9,1131.8 L1452.4,1127.3 L1455.8,1124.2 L1459.3,1130.1 L1462.8,1129.0 L1466.2,1123.3 L1469.7,1127.4 L1473.2,1130.1 L1476.6,1123.9 L1480.1,1124.6 L1483.6,1130.0 L1487.0,1125.5 L1490.5,1122.5 L1494.0,1128.5 L1497.4,1127.4 L1500.9,1121.8 L1504.4,1126.0 L1507.8,1128.7 L1511.3,1122.6 L1514.8,1123.4 L1518.2,1128.8 L1521.7,1124.5 L1525.2,1121.6 L1528.6,1127.7 L1532.1,1126.8 L1535.6,1121.3 L1539.0,1125.7 L1542.5,1128.5 L1546.0,1122.6 L1549.4,1123.6 L1552.9,1129.2 L1556.4,1125.0 L1559.8,1122.4 L1563.3,1128.6 L1566.8,1127.8 L1570.3,1122.5 L1573.7,1127.1 L1577.2,1130.1 L1580.7,1124.3 L1584.1,1125.4 L1587.6,1131.1 L1591.1,1127.1 L1594.5,1124.5 L1598.0,1130.8 L1601.5,1130.1 L1604.9,1124.9 L1608.4,1129.5 L1611.9,1132.6 L1615.3,1126.8 L1618.8,1127.9 L1622.3,1133.7 L1625.7,1129.6 L1629.2,1127.1 L1632.7,1133.4 L1636.1,1132.8 L1639.6,1127.7 L1643.1,1132.4 L1646.5,1135.6 L1650.0,1129.9 L1653.5,1131.3 L1656.9,1137.3 L1660.4,1133.6 L1663.9,1131.3 L1667.3,1138.0 L1670.8,1137.8 L1674.3,1133.0 L1677.7,1138.0 L1681.2,1141.6 L1684.7,1136.3 L1688.1,1138.0 L1691.6,1144.3 L1695.1,1140.8 L1698.5,1138.8 L1702.0,1145.6 L1705.5,1145.5 L1708.9,1140.8 L1712.4,1145.9 L1715.9,1149.5 L1719.3,1144.2 L1722.8,1145.9 L1726.3,1152.2 L1729.7,1148.7 L1733.2,1146.6 L1736.7,1153.5 L1740.1,1153.4 L1743.6,1148.8 L1747.1,1153.9 L1750.5,1157.6 L1754.0,1152.5 L1757.5,1154.3 L1761.0,1160.7 L1764.4,1157.3 L1767.9,1155.4 L1771.4,1162.5 L1774.8,1162.6 L1778.3,1158.1 L1781.8,1163.5 L1785.2,1167.4 L1788.7,1162.4 L1792.2,1164.5 L1795.6,1171.2 L1799.1,1168.0 L1802.6,1166.4 L1806.0,1173.7 L1809.5,1174.0 L1813.0,1169.8 L1816.4,1175.4 L1819.9,1179.5 L1823.4,1174.7 L1826.8,1176.9 L1830.3,1183.7 L1833.8,1180.7 L1837.2,1179.2 L1840.7,1186.6 L1844.2,1187.0 L1847.6,1182.9 L1851.1,1188.6 L1854.6,1192.8 L1858.0,1188.2 L1861.5,1190.5 L1865.0,1197.5 L1868.4,1194.6 L1871.9,1193.3 L1875.4,1200.9 L1878.8,1201.5 L1882.3,1197.6 L1885.8,1203.6 L1889.2,1208.1 L1892.7,1203.7 L1896.2,1206.4 L1899.6,1213.7 L1903.1,1211.2 L1906.6,1210.3 L1910.0,1218.4 L1913.5,1219.5 L1917.0,1216.1 L1920.4,1222.5 L1923.9,1227.5 L1927.4,1223.6 L1930.8,1226.7 L1934.3,1234.4 L1937.8,1232.3 L1941.2,1231.8 L1944.7,1240.1 L1948.2,1241.4 L1951.7,1238.1 L1955.1,1244.6 L1958.6,1249.7 L1962.1,1245.8 L1965.5,1249.0 L1969.0,1256.7 L1972.5,1254.6 L1975.9,1254.0 L1979.4,1262.4 L1982.9,1263.7 L1986.3,1260.5 L1989.8,1267.2 L1993.3,1272.3 L1996.7,1268.6 L2000.2,1271.9 L2003.7,1279.9 L2007.1,1278.0 L2010.6,1277.7 L2014.1,1286.2 L2017.5,1287.9 L2021.0,1285.0 L2024.5,1292.0 L2027.9,1297.5 L2031.4,1294.1 L2034.9,1297.8 L2038.3,1306.1 L2041.8,1304.6 L2045.3,1304.7 L2048.7,1313.6 L2052.2,1315.6 L2055.7,1313.0 L2059.1,1320.3 L2062.6,1326.1 L2066.1,1323.0 L2069.5,1326.8 L2073.0,1335.3 L2076.5,1334.0 L2079.9,1334.1 L2083.4,1343.2 L2086.9,1345.3 L2090.3,1342.8 L2093.8,1350.1 L2097.3,1356.0 L2100.7,1353.0 L2104.2,1356.9 L2107.7,1365.5 L2111.1,1364.3 L2114.6,1364.6 L2118.1,1373.9 L2121.5,1376.1 L2125.0,1373.9 L2128.5,1381.4 L2131.9,1387.6 L2135.4,1384.8 L2138.9,1389.1 L2142.4,1398.0 L2145.8,1397.2 L2149.3,1397.9 L2152.8,1407.6 L2156.2,1410.3 L2159.7,1408.5 L2163.2,1416.5 L2166.6,1423.1 L2170.1,1420.7 L2173.6,1425.4 L2177.0,1434.6 L2180.5,1434.0 L2184.0,1435.0" stroke="#008000" stroke-width="7.3"/>
<path d="M679.2,1434.2 L682.6,1430.8 L686.1,1432.0 L689.6,1423.3 L693.0,1416.0 L696.5,1417.6 L700.0,1412.4 L703.4,1402.9 L706.9,1403.6 L710.4,1402.9 L713.8,1393.5 L717.3,1391.2 L720.8,1393.5 L724.2,1386.1 L727.7,1380.4 L731.2,1383.6 L734.6,1379.8 L738.1,1371.6 L741.6,1373.2 L745.0,1373.5 L748.5,1364.9 L752.0,1363.3 L755.4,1366.4 L758.9,1359.8 L762.4,1354.6 L765.8,1358.4 L769.3,1355.3 L772.8,1347.6 L776.2,1349.7 L779.7,1350.5 L783.2,1342.3 L786.6,1341.2 L790.1,1344.7 L793.6,1338.5 L797.0,1333.7 L800.5,1337.9 L804.0,1335.2 L807.5,1327.9 L810.9,1330.4 L814.4,1331.5 L817.9,1323.7 L821.3,1323.0 L824.8,1326.8 L828.3,1320.9 L831.7,1316.6 L835.2,1321.1 L838.7,1318.7 L842.1,1311.8 L845.6,1314.7 L849.1,1316.2 L852.5,1308.8 L856.0,1308.4 L859.5,1312.6 L862.9,1307.0 L866.4,1302.9 L869.9,1307.8 L873.3,1305.6 L876.8,1298.9 L880.3,1302.0 L883.7,1303.6 L887.2,1296.4 L890.7,1296.1 L894.1,1300.5 L897.6,1295.0 L901.1,1291.1 L904.5,1296.1 L908.0,1294.1 L911.5,1287.6 L914.9,1290.9 L918.4,1292.7 L921.9,1285.6 L925.3,1285.6 L928.8,1290.2 L932.3,1285.0 L935.7,1281.2 L939.2,1286.4 L942.7,1284.7 L946.1,1278.3 L949.6,1281.8 L953.1,1283.8 L956.5,1277.0 L960.0,1277.1 L963.5,1281.8 L966.9,1276.7 L970.4,1273.1 L973.9,1278.4 L977.3,1276.7 L980.8,1270.5 L984.3,1274.0 L987.7,1276.1 L991.2,1269.3 L994.7,1269.4 L998.2,1274.2 L1001.6,1269.1 L1005.1,1265.5 L1008.6,1270.8 L1012.0,1269.0 L1015.5,1262.8 L1019.0,1266.3 L1022.4,1268.3 L1025.9,1261.5 L1029.4,1261.6 L1032.8,1266.3 L1036.3,1261.2 L1039.8,1257.6 L1043.2,1262.9 L1046.7,1261.2 L1050.2,1254.9 L1053.6,1258.5 L1057.1,1260.5 L1060.6,1253.7 L1064.0,1253.9 L1067.5,1258.7 L1071.0,1253.6 L1074.4,1250.1 L1077.9,1255.5 L1081.4,1253.9 L1084.8,1247.7 L1088.3,1251.4 L1091.8,1253.5 L1095.2,1246.9 L1098.7,1247.2 L1102.2,1252.1 L1105.6,1247.2 L1106.3,1249.0 L1109.1,1245.0 L1111.9,1231.0 L1114.4,1210.0 L1115.7,1175.0 L1116.8,1120.0 L1118.5,1050.0 L1121.2,767.0 L1121.9,600.0 L1122.5,500.0 L1122.9,223.3 L1123.9,223.3 L1126.2,500.0 L1127.3,600.0 L1128.3,767.0 L1131.1,1050.0 L1132.4,1120.0 L1133.5,1175.0 L1135.3,1203.0 L1137.4,1224.0 L1138.8,1238.0 L1140.2,1245.0 L1143.8,1238.9 L1147.2,1244.3 L1150.7,1242.7 L1154.2,1236.5 L1157.6,1240.0 L1161.1,1242.1 L1164.6,1235.2 L1168.0,1235.2 L1171.5,1239.8 L1175.0,1234.6 L1178.4,1230.8 L1181.9,1236.0 L1185.4,1234.1 L1188.9,1227.6 L1192.3,1230.9 L1195.8,1232.8 L1199.3,1225.7 L1202.7,1225.6 L1206.2,1230.1 L1209.7,1224.8 L1213.1,1221.0 L1216.6,1226.1 L1220.1,1224.2 L1223.5,1217.7 L1227.0,1221.1 L1230.5,1223.0 L1233.9,1216.0 L1237.4,1216.0 L1240.9,1220.7 L1244.3,1215.5 L1247.8,1211.9 L1251.3,1217.2 L1254.7,1215.5 L1258.2,1209.2 L1261.7,1212.7 L1265.1,1214.7 L1268.6,1207.9 L1272.1,1208.0 L1275.5,1212.7 L1279.0,1207.6 L1282.5,1204.0 L1285.9,1209.3 L1289.4,1207.6 L1292.9,1201.3 L1296.3,1204.9 L1299.8,1206.9 L1303.3,1200.1 L1306.7,1200.3 L1310.2,1205.0 L1313.7,1200.0 L1317.1,1196.5 L1320.6,1201.8 L1324.1,1200.2 L1327.5,1194.0 L1331.0,1197.6 L1334.5,1199.8 L1337.9,1193.1 L1341.4,1193.4 L1344.9,1198.3 L1348.3,1193.3 L1351.8,1189.9 L1355.3,1195.4 L1358.7,1193.9 L1362.2,1187.9 L1365.7,1191.7 L1369.1,1194.1 L1372.6,1187.5 L1376.1,1188.0 L1379.6,1193.0 L1383.0,1188.3 L1386.5,1185.0 L1390.0,1190.7 L1393.4,1189.3 L1396.9,1183.4 L1400.4,1187.3 L1403.8,1189.8 L1407.3,1183.3 L1410.8,1183.8 L1414.2,1189.0 L1417.7,1184.3 L1421.2,1181.1 L1424.6,1186.8 L1428.1,1185.6 L1431.6,1179.8 L1435.0,1183.8 L1438.5,1186.3 L1442.0,1179.9 L1445.4,1180.5 L1448.9,1185.8 L1452.4,1181.2 L1455.8,1178.1 L1459.3,1183.9 L1462.8,1182.7 L1466.2,1177.0 L1469.7,1181.1 L1473.2,1183.7 L1476.6,1177.4 L1480.1,1178.1 L1483.6,1183.3 L1487.0,1178.8 L1490.5,1175.7 L1494.0,1181.6 L1497.4,1180.4 L1500.9,1174.7 L1504.4,1178.9 L1507.8,1181.5 L1511.3,1175.3 L1514.8,1176.1 L1518.2,1181.5 L1521.7,1177.1 L1525.2,1174.2 L1528.6,1180.3 L1532.1,1179.4 L1535.6,1173.9 L1539.0,1178.2 L1542.5,1181.1 L1546.0,1175.1 L1549.4,1176.1 L1552.9,1181.7 L1556.4,1177.4 L1559.8,1174.7 L1563.3,1180.9 L1566.8,1180.1 L1570.3,1174.7 L1573.7,1179.1 L1577.2,1182.1 L1580.7,1176.2 L1584.1,1177.3 L1587.6,1182.9 L1591.1,1178.7 L1594.5,1176.1 L1598.0,1182.3 L1601.5,1181.5 L1604.9,1176.2 L1608.4,1180.6 L1611.9,1183.6 L1615.3,1177.7 L1618.8,1178.8 L1622.3,1184.4 L1625.7,1180.2 L1629.2,1177.5 L1632.7,1183.8 L1636.1,1183.0 L1639.6,1177.6 L1643.1,1182.1 L1646.5,1185.2 L1650.0,1179.3 L1653.5,1180.5 L1656.9,1186.4 L1660.4,1182.5 L1663.9,1180.2 L1667.3,1186.9 L1670.8,1186.6 L1674.3,1181.7 L1677.7,1186.8 L1681.2,1190.3 L1684.7,1185.0 L1688.1,1186.7 L1691.6,1193.0 L1695.1,1189.5 L1698.5,1187.5 L1702.0,1194.3 L1705.5,1194.2 L1708.9,1189.4 L1712.4,1194.5 L1715.9,1198.0 L1719.3,1192.6 L1722.8,1194.2 L1726.3,1200.4 L1729.7,1196.8 L1733.2,1194.7 L1736.7,1201.5 L1740.1,1201.3 L1743.6,1196.6 L1747.1,1201.6 L1750.5,1205.2 L1754.0,1199.9 L1757.5,1201.7 L1761.0,1208.0 L1764.4,1204.5 L1767.9,1202.5 L1771.4,1209.5 L1774.8,1209.5 L1778.3,1205.0 L1781.8,1210.3 L1785.2,1214.1 L1788.7,1209.1 L1792.2,1211.0 L1795.6,1217.6 L1799.1,1214.4 L1802.6,1212.7 L1806.0,1220.0 L1809.5,1220.2 L1813.0,1215.9 L1816.4,1221.5 L1819.9,1225.5 L1823.4,1220.7 L1826.8,1222.9 L1830.3,1229.7 L1833.8,1226.7 L1837.2,1225.2 L1840.7,1232.7 L1844.2,1233.2 L1847.6,1229.2 L1851.1,1235.0 L1854.6,1239.3 L1858.0,1234.8 L1861.5,1237.3 L1865.0,1244.4 L1868.4,1241.7 L1871.9,1240.5 L1875.4,1248.3 L1878.8,1249.0 L1882.3,1245.2 L1885.8,1251.2 L1889.2,1255.7 L1892.7,1251.3 L1896.2,1253.9 L1899.6,1261.1 L1903.1,1258.5 L1906.6,1257.4 L1910.0,1265.2 L1913.5,1266.1 L1917.0,1262.4 L1920.4,1268.5 L1923.9,1273.1 L1927.4,1268.9 L1930.8,1271.7 L1934.3,1279.0 L1937.8,1276.6 L1941.2,1275.6 L1944.7,1283.6 L1948.2,1284.6 L1951.7,1281.0 L1955.1,1287.2 L1958.6,1292.0 L1962.1,1287.9 L1965.5,1290.8 L1969.0,1298.3 L1972.5,1295.9 L1975.9,1295.1 L1979.4,1303.2 L1982.9,1304.3 L1986.3,1300.9 L1989.8,1307.3 L1993.3,1312.2 L1996.7,1308.2 L2000.2,1311.3 L2003.7,1318.9 L2007.1,1316.8 L2010.6,1316.1 L2014.1,1324.4 L2017.5,1325.7 L2021.0,1322.5 L2024.5,1329.1 L2027.9,1334.2 L2031.4,1330.4 L2034.9,1333.6 L2038.3,1341.5 L2041.8,1339.5 L2045.3,1339.1 L2048.7,1347.6 L2052.2,1349.1 L2055.7,1346.1 L2059.1,1352.9 L2062.6,1358.3 L2066.1,1354.8 L2069.5,1358.4 L2073.0,1366.6 L2076.5,1365.0 L2079.9,1365.0 L2083.4,1373.9 L2086.9,1376.0 L2090.3,1373.5 L2093.8,1380.9 L2097.3,1386.9 L2100.7,1384.0 L2104.2,1388.2 L2107.7,1396.9 L2111.1,1395.9 L2114.6,1396.4 L2118.1,1405.8 L2121.5,1408.3 L2125.0,1406.1 L2128.5,1413.8 L2131.9,1420.0 L2135.4,1417.2 L2138.9,1421.4 L2142.4,1430.2 L2145.8,1429.1 L2149.3,1429.5 L2152.8,1438.9" stroke="#990000" stroke-width="7.3"/>
<path d="M856.0,1428.2 L859.5,1432.3 L862.9,1426.5 L866.4,1422.2 L869.9,1426.8 L873.3,1424.4 L876.8,1417.4 L880.3,1420.3 L883.7,1421.6 L887.2,1414.1 L890.7,1413.5 L894.1,1417.6 L897.6,1411.8 L901.1,1407.5 L904.5,1412.1 L908.0,1409.8 L911.5,1402.9 L914.9,1405.8 L918.4,1407.2 L921.9,1399.8 L925.3,1399.3 L928.8,1403.5 L932.3,1397.8 L935.7,1393.7 L939.2,1398.5 L942.7,1396.2 L946.1,1389.5 L949.6,1392.5 L953.1,1394.1 L956.5,1386.7 L960.0,1386.4 L963.5,1390.6 L966.9,1385.1 L970.4,1381.0 L973.9,1385.8 L977.3,1383.6 L980.8,1376.9 L984.3,1380.0 L987.7,1381.6 L991.2,1374.3 L994.7,1374.0 L998.2,1378.2 L1001.6,1372.6 L1005.1,1368.6 L1008.6,1373.4 L1012.0,1371.2 L1015.5,1364.5 L1019.0,1367.6 L1022.4,1369.1 L1025.9,1361.8 L1029.4,1361.5 L1032.8,1365.7 L1036.3,1360.2 L1039.8,1356.1 L1043.2,1360.9 L1046.7,1358.8 L1050.2,1352.0 L1053.6,1355.1 L1057.1,1356.7 L1060.6,1349.4 L1064.0,1349.1 L1067.5,1353.4 L1071.0,1347.8 L1074.4,1343.8 L1077.9,1348.6 L1081.4,1346.5 L1084.8,1339.8 L1088.3,1342.9 L1091.8,1344.5 L1095.2,1337.3 L1098.7,1337.0 L1102.2,1341.3 L1105.6,1335.8 L1109.1,1331.8 L1112.6,1336.7 L1116.0,1334.6 L1119.5,1327.9 L1123.0,1331.1 L1126.4,1332.8 L1129.9,1325.6 L1133.4,1325.3 L1136.8,1329.7 L1140.3,1324.2 L1143.8,1320.3 L1147.2,1325.2 L1150.7,1323.1 L1154.2,1316.5 L1157.6,1319.7 L1161.1,1321.3 L1164.6,1314.1 L1168.0,1313.9 L1171.5,1318.3 L1175.0,1312.9 L1178.4,1308.9 L1181.9,1313.9 L1185.4,1311.9 L1188.9,1305.3 L1192.3,1308.5 L1195.8,1310.2 L1199.3,1303.1 L1202.7,1302.9 L1206.2,1307.3 L1209.7,1301.9 L1213.1,1298.1 L1216.6,1303.1 L1220.1,1301.1 L1223.5,1294.6 L1227.0,1297.9 L1230.5,1299.7 L1233.9,1292.6 L1237.4,1292.5 L1240.9,1297.0 L1244.3,1291.7 L1247.8,1287.9 L1251.3,1293.0 L1254.7,1291.2 L1258.2,1284.7 L1261.7,1288.0 L1265.1,1289.9 L1268.6,1282.8 L1272.1,1282.8 L1275.5,1287.3 L1279.0,1282.0 L1282.5,1278.2 L1285.9,1283.3 L1289.4,1281.4 L1292.9,1274.9 L1296.3,1278.3 L1299.8,1280.2 L1303.3,1273.2 L1306.7,1273.2 L1310.2,1277.7 L1313.7,1272.5 L1317.1,1268.8 L1320.6,1273.9 L1324.1,1272.2 L1327.5,1265.8 L1331.0,1269.3 L1334.5,1271.3 L1337.9,1264.4 L1341.4,1264.5 L1344.9,1269.3 L1348.3,1264.2 L1351.8,1260.7 L1355.3,1266.0 L1358.7,1264.4 L1362.2,1258.3 L1365.7,1262.0 L1369.1,1264.2 L1372.6,1257.6 L1376.1,1257.9 L1379.6,1262.9 L1383.4,1255.0 L1387.0,1252.0 L1390.4,1249.0 L1390.7,1231.0 L1392.5,1189.0 L1393.9,1147.0 L1394.6,1050.0 L1396.7,800.0 L1398.2,365.3 L1399.2,365.3 L1405.0,800.0 L1407.4,1050.0 L1408.2,1120.0 L1409.9,1175.0 L1412.0,1217.0 L1414.8,1245.0 L1416.9,1254.7 L1417.7,1253.7 L1421.2,1252.2 L1424.6,1259.6 L1428.1,1258.5 L1431.6,1252.6 L1435.0,1256.6 L1438.5,1259.0 L1442.0,1252.6 L1445.4,1253.2 L1448.9,1258.4 L1452.4,1253.7 L1455.8,1250.6 L1459.3,1256.3 L1462.8,1255.1 L1466.2,1249.3 L1469.7,1253.3 L1473.2,1255.9 L1476.6,1249.5 L1480.1,1250.1 L1483.6,1255.0 L1487.0,1250.1 L1490.5,1246.7 L1494.0,1252.2 L1497.4,1250.7 L1500.9,1244.6 L1504.4,1248.4 L1507.8,1250.7 L1511.3,1244.0 L1514.8,1244.4 L1518.2,1249.4 L1521.7,1244.6 L1525.2,1241.2 L1528.6,1246.8 L1532.1,1245.6 L1535.6,1239.9 L1539.0,1244.1 L1542.5,1246.8 L1546.0,1240.6 L1549.4,1241.4 L1552.9,1246.8 L1556.4,1242.5 L1559.8,1239.6 L1563.3,1245.7 L1566.8,1244.8 L1570.3,1239.4 L1573.7,1243.9 L1577.2,1246.9 L1580.7,1241.1 L1584.1,1242.2 L1587.6,1247.9 L1591.1,1243.9 L1594.5,1241.3 L1598.0,1247.6 L1601.5,1246.9 L1604.9,1241.6 L1608.4,1246.2 L1611.9,1249.1 L1615.3,1243.2 L1618.8,1244.2 L1622.3,1249.7 L1625.7,1245.4 L1629.2,1242.5 L1632.7,1248.4 L1636.1,1247.3 L1639.6,1241.6 L1643.1,1245.7 L1646.5,1248.4 L1650.0,1242.3 L1653.5,1243.3 L1656.9,1249.0 L1660.4,1244.9 L1663.9,1242.5 L1667.3,1249.0 L1670.8,1248.6 L1674.3,1243.6 L1677.7,1248.6 L1681.2,1252.1 L1684.7,1246.7 L1688.1,1248.4 L1691.6,1254.6 L1695.1,1251.0 L1698.5,1248.9 L1702.0,1255.6 L1705.5,1255.4 L1708.9,1250.5 L1712.4,1255.4 L1715.9,1258.8 L1719.3,1253.3 L1722.8,1254.7 L1726.3,1260.8 L1729.7,1257.0 L1733.2,1254.7 L1736.7,1261.3 L1740.1,1261.0 L1743.6,1256.0 L1747.1,1260.9 L1750.5,1264.3 L1754.0,1258.9 L1757.5,1260.4 L1761.0,1266.6 L1764.4,1262.9 L1767.9,1260.8 L1771.4,1267.5 L1774.8,1267.4 L1778.3,1262.6 L1781.8,1267.8 L1785.2,1271.4 L1788.7,1266.3 L1792.2,1268.1 L1795.6,1274.5 L1799.1,1271.1 L1802.6,1269.3 L1806.0,1276.4 L1809.5,1276.5 L1813.0,1272.0 L1816.4,1277.4 L1819.9,1281.3 L1823.4,1276.3 L1826.8,1278.3 L1830.3,1284.9 L1833.8,1281.7 L1837.2,1280.0 L1840.7,1287.2 L1844.2,1287.5 L1847.6,1283.2 L1851.1,1288.8 L1854.6,1292.9 L1858.0,1288.1 L1861.5,1290.3 L1865.0,1297.2 L1868.4,1294.2 L1871.9,1292.7 L1875.4,1300.2 L1878.8,1300.6 L1882.3,1296.5 L1885.8,1302.2 L1889.2,1306.5 L1892.7,1301.8 L1896.2,1304.1 L1899.6,1311.1 L1903.1,1308.2 L1906.6,1306.8 L1910.0,1314.3 L1913.5,1314.8 L1917.0,1310.8 L1920.4,1316.6 L1923.9,1321.0 L1927.4,1316.4 L1930.8,1318.9 L1934.3,1326.0 L1937.8,1323.2 L1941.2,1322.0 L1944.7,1329.7 L1948.2,1330.4 L1951.7,1326.6 L1955.1,1332.6 L1958.6,1337.2 L1962.1,1332.9 L1965.5,1335.6 L1969.0,1342.9 L1972.5,1340.4 L1975.9,1339.4 L1979.4,1347.3 L1982.9,1348.3 L1986.3,1344.8 L1989.8,1351.0 L1993.3,1355.8 L1996.7,1351.8 L2000.2,1354.7 L2003.7,1362.3 L2007.1,1360.0 L2010.6,1359.3 L2014.1,1367.5 L2017.5,1368.7 L2021.0,1365.4 L2024.5,1372.0 L2027.9,1377.1 L2031.4,1373.4 L2034.9,1376.6 L2038.3,1384.5 L2041.8,1382.7 L2045.3,1382.3 L2048.7,1390.8 L2052.2,1392.4 L2055.7,1389.4 L2059.1,1396.2 L2062.6,1401.5 L2066.1,1398.0 L2069.5,1401.4 L2073.0,1409.4 L2076.5,1407.6 L2079.9,1407.2 L2083.4,1415.7 L2086.9,1417.3 L2090.3,1414.3 L2093.8,1421.2 L2097.3,1426.5 L2100.7,1423.0 L2104.2,1426.4 L2107.7,1434.4 L2111.1,1432.7 L2114.6,1432.4" stroke="#0000ff" stroke-width="7.3"/>
<path d="M856.0,1429.2 L859.5,1433.3 L862.9,1427.5 L866.4,1423.2 L869.9,1427.8 L873.3,1425.4 L876.8,1418.4 L880.3,1421.3 L883.7,1422.6 L887.2,1415.1 L890.7,1414.5 L894.1,1418.6 L897.6,1412.8 L901.1,1408.5 L904.5,1413.1 L908.0,1410.8 L911.5,1403.9 L914.9,1406.8 L918.4,1408.2 L921.9,1400.8 L925.3,1400.3 L928.8,1404.5 L932.3,1398.8 L935.7,1394.7 L939.2,1399.5 L942.7,1397.2 L946.1,1390.5 L949.6,1393.5 L953.1,1395.1 L956.5,1387.7 L960.0,1387.4 L963.5,1391.6 L966.9,1386.1 L970.4,1382.0 L973.9,1386.8 L977.3,1384.6 L980.8,1377.9 L984.3,1381.0 L987.7,1382.6 L991.2,1375.3 L994.7,1375.0 L998.2,1379.2 L1001.6,1373.6 L1005.1,1369.6 L1008.6,1374.4 L1012.0,1372.2 L1015.5,1365.5 L1019.0,1368.6 L1022.4,1370.1 L1025.9,1362.8 L1029.4,1362.5 L1032.8,1366.7 L1036.3,1361.2 L1039.8,1357.1 L1043.2,1361.9 L1046.7,1359.8 L1050.2,1353.0 L1053.6,1356.1 L1057.1,1357.7 L1060.6,1350.4 L1064.0,1350.1 L1067.5,1354.4 L1071.0,1348.8 L1074.4,1344.8 L1077.9,1349.6 L1081.4,1347.5 L1084.8,1340.8 L1088.3,1343.9 L1091.8,1345.5 L1095.2,1338.3 L1098.7,1338.0 L1102.2,1342.3 L1105.6,1336.8 L1109.1,1332.8 L1112.6,1337.7 L1116.0,1335.6 L1119.5,1328.9 L1123.0,1332.1 L1126.4,1333.8 L1129.9,1326.6 L1133.4,1326.3 L1136.8,1330.7 L1140.3,1325.2 L1143.8,1321.3 L1147.2,1326.2 L1150.7,1324.1 L1154.2,1317.5 L1157.6,1320.7 L1161.1,1322.3 L1164.6,1315.1 L1168.0,1314.9 L1171.5,1319.3 L1175.0,1313.9 L1178.4,1309.9 L1181.9,1314.9 L1185.4,1312.9 L1188.9,1306.3 L1192.3,1309.5 L1195.8,1311.2 L1199.3,1304.1 L1202.7,1303.9 L1206.2,1308.3 L1209.7,1302.9 L1213.1,1299.1 L1216.6,1304.1 L1220.1,1302.1 L1223.5,1295.6 L1227.0,1298.9 L1230.5,1300.7 L1233.9,1293.6 L1237.4,1293.5 L1240.9,1298.0 L1244.3,1292.7 L1247.8,1288.9 L1251.3,1294.0 L1254.7,1292.2 L1258.2,1285.7 L1261.7,1289.0 L1265.1,1290.9 L1268.6,1283.8 L1272.1,1283.8 L1275.5,1288.3 L1279.0,1283.0 L1282.5,1279.2 L1285.9,1284.3 L1289.4,1282.4 L1292.9,1275.9 L1296.3,1279.3 L1299.8,1281.2 L1303.3,1274.2 L1306.7,1274.2 L1310.2,1278.7 L1313.7,1273.5 L1317.1,1269.8 L1320.6,1274.9 L1324.1,1273.2 L1327.5,1266.8 L1331.0,1270.3 L1334.5,1272.3 L1337.9,1265.4 L1341.4,1265.5 L1344.9,1270.3 L1348.3,1265.2 L1351.8,1261.7 L1355.3,1267.0 L1358.7,1265.4 L1362.2,1259.3 L1365.7,1263.0 L1369.1,1265.2 L1372.6,1258.6 L1376.1,1258.9 L1379.6,1263.9 L1383.0,1259.0 L1386.5,1255.7 L1390.0,1261.3 L1393.4,1259.9 L1396.9,1253.9 L1400.4,1257.7 L1403.8,1260.1 L1407.3,1253.6 L1410.8,1254.1 L1414.2,1259.1 L1417.7,1254.4 L1421.2,1251.2 L1424.6,1256.8 L1428.1,1255.5 L1431.6,1249.6 L1435.0,1253.6 L1438.5,1256.0 L1442.0,1249.6 L1445.4,1250.2 L1448.9,1255.4 L1452.4,1250.7 L1455.8,1247.6 L1459.3,1253.3 L1462.8,1252.1 L1466.2,1246.3 L1469.7,1250.3 L1473.2,1252.9 L1476.6,1246.5 L1480.1,1247.1 L1483.6,1252.3 L1487.0,1247.7 L1490.5,1244.6 L1494.0,1250.3 L1497.4,1249.1 L1500.9,1243.3 L1504.4,1247.3 L1507.8,1249.9 L1511.3,1243.6 L1514.8,1244.2 L1518.2,1249.5 L1521.7,1244.9 L1525.2,1241.8 L1528.6,1247.7 L1532.1,1246.6 L1535.6,1240.9 L1539.0,1245.1 L1542.5,1247.8 L1546.0,1241.6 L1549.4,1242.4 L1552.9,1247.8 L1556.4,1243.5 L1559.8,1240.6 L1563.3,1246.7 L1566.8,1245.8 L1570.3,1240.4 L1573.7,1244.8 L1577.2,1247.7 L1580.7,1241.7 L1584.1,1242.8 L1587.6,1248.5 L1591.1,1244.3 L1594.5,1241.7 L1598.0,1248.0 L1601.5,1247.3 L1604.9,1242.0 L1608.4,1246.5 L1611.9,1249.6 L1615.3,1243.8 L1618.8,1245.0 L1622.3,1250.7 L1625.7,1246.7 L1629.2,1244.2 L1632.7,1250.7 L1636.1,1250.2 L1639.6,1245.1 L1643.1,1249.9 L1646.5,1253.1 L1650.0,1247.3 L1653.5,1248.5 L1656.9,1254.2 L1660.4,1250.1 L1663.9,1247.4 L1667.3,1253.7 L1670.8,1252.9 L1674.3,1247.5 L1677.7,1252.0 L1681.2,1255.0 L1684.7,1249.1 L1688.1,1250.3 L1691.6,1256.0 L1695.6,1247.8 L1699.8,1242.0 L1702.3,1231.0 L1704.0,1210.0 L1704.7,1175.0 L1705.7,1120.0 L1706.8,1050.0 L1708.5,960.0 L1710.8,680.0 L1711.9,373.8 L1712.9,373.8 L1714.4,680.0 L1717.2,960.0 L1718.6,1050.0 L1719.7,1120.0 L1721.4,1175.0 L1723.2,1210.0 L1724.6,1231.0 L1725.6,1247.8 L1730.5,1259.0 L1737.4,1268.7 L1740.1,1271.8 L1743.6,1267.1 L1747.1,1272.1 L1750.5,1275.5 L1754.0,1270.0 L1757.5,1271.6 L1761.0,1277.7 L1764.4,1274.1 L1767.9,1272.0 L1771.4,1278.9 L1774.8,1278.7 L1778.3,1274.0 L1781.8,1279.1 L1785.2,1282.7 L1788.7,1277.5 L1792.2,1279.3 L1795.6,1285.6 L1799.1,1282.2 L1802.6,1280.3 L1806.0,1287.3 L1809.5,1287.4 L1813.0,1282.9 L1816.4,1288.3 L1819.9,1292.2 L1823.4,1287.2 L1826.8,1289.2 L1830.3,1295.9 L1833.8,1292.7 L1837.2,1291.0 L1840.7,1298.2 L1844.2,1298.5 L1847.6,1294.2 L1851.1,1299.8 L1854.6,1303.8 L1858.0,1299.0 L1861.5,1301.2 L1865.0,1308.0 L1868.4,1304.9 L1871.9,1303.4 L1875.4,1310.8 L1878.8,1311.2 L1882.3,1307.1 L1885.8,1312.8 L1889.2,1317.0 L1892.7,1312.3 L1896.2,1314.6 L1899.6,1321.6 L1903.1,1318.7 L1906.6,1317.3 L1910.0,1324.9 L1913.5,1325.5 L1917.0,1321.5 L1920.4,1327.4 L1923.9,1331.8 L1927.4,1327.3 L1930.8,1329.8 L1934.3,1336.9 L1937.8,1334.2 L1941.2,1333.0 L1944.7,1340.7 L1948.2,1341.5 L1951.7,1337.6 L1955.1,1343.6 L1958.6,1348.1 L1962.1,1343.7 L1965.5,1346.3 L1969.0,1353.5 L1972.5,1350.9 L1975.9,1349.7 L1979.4,1357.5 L1982.9,1358.3 L1986.3,1354.6 L1989.8,1360.7 L1993.3,1365.3 L1996.7,1361.1 L2000.2,1363.9 L2003.7,1371.4 L2007.1,1369.1 L2010.6,1368.3 L2014.1,1376.5 L2017.5,1377.7 L2021.0,1374.5 L2024.5,1381.2 L2027.9,1386.5 L2031.4,1383.0 L2034.9,1386.6 L2038.3,1394.8 L2041.8,1393.3 L2045.3,1393.3 L2048.7,1402.2 L2052.2,1404.2 L2055.7,1401.6 L2059.1,1408.8 L2062.6,1414.6 L2066.1,1411.4 L2069.5,1415.3 L2073.0,1423.6 L2076.5,1422.2 L2079.9,1422.2 L2083.4,1431.0 L2086.9,1432.8 L2090.3,1430.0 L2093.8,1437.1" stroke="#a0a0a0" stroke-width="7.3"/>
<path d="M589.0,1436.7 L592.5,1436.2 L595.9,1428.9 L599.4,1416.7 L602.9,1414.4 L606.3,1410.9 L609.8,1398.8 L613.3,1394.3 L616.8,1394.8 L620.2,1385.6 L623.7,1378.2 L627.2,1379.8 L630.6,1374.6 L634.1,1365.0 L637.6,1365.2 L641.0,1364.1 L644.5,1354.1 L648.0,1351.2 L651.4,1353.0 L654.9,1345.0 L658.4,1338.6 L661.8,1341.2 L665.3,1336.9 L668.8,1328.0 L672.2,1329.0 L675.7,1328.6 L679.2,1319.4 L682.6,1317.3 L686.1,1319.7 L689.6,1312.5 L693.0,1306.7 L696.5,1310.0 L700.0,1306.3 L703.4,1298.1 L706.9,1299.7 L710.4,1299.9 L713.8,1291.3 L717.3,1289.7 L720.8,1292.7 L724.2,1285.9 L727.7,1280.8 L731.2,1284.5 L734.6,1281.4 L738.1,1273.8 L741.6,1276.0 L745.0,1276.7 L748.5,1268.7 L752.0,1267.7 L755.4,1271.3 L758.9,1265.1 L762.4,1260.5 L765.8,1264.9 L769.3,1262.4 L772.8,1255.3 L776.2,1258.1 L779.7,1259.5 L783.2,1252.0 L786.6,1251.5 L790.1,1255.7 L793.6,1250.1 L797.0,1246.1 L800.5,1251.0 L804.0,1248.9 L807.5,1242.4 L810.9,1245.7 L814.4,1247.5 L817.9,1240.5 L821.3,1240.5 L824.8,1245.1 L828.3,1239.8 L831.7,1236.0 L835.2,1241.2 L838.7,1239.3 L842.1,1232.9 L845.6,1236.3 L849.1,1238.3 L852.5,1231.3 L856.0,1231.4 L859.5,1236.0 L862.9,1230.9 L866.4,1227.2 L869.9,1232.4 L873.3,1230.7 L876.8,1224.3 L880.3,1227.8 L883.7,1229.8 L887.2,1222.9 L890.7,1223.0 L894.1,1227.7 L897.6,1222.6 L901.1,1219.0 L904.5,1224.3 L908.0,1222.6 L911.5,1216.4 L914.9,1220.1 L918.4,1222.2 L921.9,1215.5 L925.3,1215.8 L928.8,1220.8 L932.3,1215.9 L935.7,1212.5 L939.2,1218.1 L942.7,1216.6 L946.1,1210.6 L949.6,1214.5 L953.1,1216.8 L956.5,1210.3 L960.0,1210.8 L963.5,1215.8 L966.9,1211.0 L970.4,1207.8 L973.9,1213.4 L977.3,1212.0 L980.8,1206.0 L984.3,1209.9 L987.7,1212.2 L991.2,1205.7 L994.7,1206.1 L998.2,1211.0 L1001.6,1206.2 L1005.1,1202.8 L1008.6,1208.3 L1012.0,1206.8 L1015.5,1200.8 L1019.0,1204.5 L1022.4,1206.8 L1025.9,1200.1 L1029.4,1200.5 L1032.8,1205.4 L1036.3,1200.5 L1039.8,1197.1 L1043.2,1202.6 L1046.7,1201.0 L1050.2,1194.9 L1053.6,1198.6 L1057.1,1200.9 L1060.6,1194.2 L1064.0,1194.5 L1067.5,1199.4 L1071.0,1194.4 L1074.4,1191.0 L1077.9,1196.4 L1081.4,1194.8 L1084.8,1188.7 L1088.3,1192.4 L1091.8,1194.6 L1095.2,1187.9 L1098.7,1188.2 L1102.2,1193.0 L1105.6,1188.0 L1109.1,1184.5 L1112.6,1190.0 L1116.0,1188.4 L1119.5,1182.2 L1123.0,1185.9 L1126.4,1188.0 L1129.9,1181.3 L1133.4,1181.5 L1136.8,1186.3 L1140.3,1181.3 L1143.8,1177.7 L1147.2,1183.1 L1150.7,1181.4 L1154.2,1175.2 L1157.6,1178.7 L1161.1,1180.8 L1164.6,1174.0 L1168.0,1174.1 L1171.5,1178.8 L1175.0,1173.7 L1178.4,1170.1 L1181.9,1175.4 L1185.4,1173.7 L1188.9,1167.5 L1192.3,1171.0 L1195.8,1173.1 L1199.3,1166.2 L1202.7,1166.4 L1206.2,1171.2 L1209.7,1166.1 L1213.1,1162.5 L1216.6,1167.9 L1220.1,1166.2 L1223.5,1160.0 L1227.0,1163.7 L1230.5,1165.8 L1233.9,1159.1 L1237.4,1159.3 L1240.9,1164.2 L1244.3,1159.2 L1247.8,1155.8 L1251.3,1161.3 L1254.7,1159.8 L1258.2,1153.7 L1261.7,1157.4 L1265.1,1159.7 L1268.6,1153.0 L1272.1,1153.4 L1275.5,1158.3 L1279.0,1153.4 L1282.5,1150.0 L1285.9,1155.5 L1289.4,1154.0 L1292.9,1148.0 L1296.3,1151.8 L1299.8,1154.0 L1303.3,1147.4 L1306.7,1147.8 L1310.2,1152.8 L1313.7,1148.0 L1317.1,1144.6 L1320.6,1150.2 L1324.1,1148.8 L1327.5,1142.8 L1331.0,1146.6 L1334.5,1149.0 L1337.9,1142.5 L1341.4,1142.9 L1344.9,1148.0 L1348.3,1143.3 L1351.8,1140.0 L1355.3,1145.7 L1358.7,1144.4 L1362.2,1138.5 L1365.7,1142.4 L1369.1,1144.9 L1372.6,1138.5 L1376.1,1139.1 L1379.6,1144.2 L1383.0,1139.6 L1386.5,1136.4 L1390.0,1142.2 L1393.4,1140.9 L1396.9,1135.1 L1400.4,1139.1 L1403.8,1141.6 L1407.3,1135.3 L1410.8,1135.9 L1414.2,1141.1 L1417.7,1136.5 L1421.2,1133.4 L1424.6,1139.2 L1428.1,1138.1 L1431.6,1132.3 L1435.0,1136.4 L1438.5,1139.0 L1442.0,1132.7 L1445.4,1133.4 L1448.9,1138.7 L1452.4,1134.2 L1455.8,1131.1 L1459.3,1137.0 L1462.8,1135.9 L1466.2,1130.3 L1469.7,1134.5 L1473.2,1137.1 L1476.6,1130.9 L1480.1,1131.7 L1483.6,1137.0 L1487.0,1132.5 L1490.5,1129.6 L1494.0,1135.5 L1497.4,1134.4 L1500.9,1128.8 L1504.4,1133.0 L1507.8,1135.7 L1511.3,1129.6 L1514.8,1130.4 L1518.2,1135.8 L1521.7,1131.5 L1525.2,1128.6 L1528.6,1134.7 L1532.1,1133.8 L1535.6,1128.3 L1539.0,1132.6 L1542.5,1135.5 L1546.0,1129.5 L1549.4,1130.5 L1552.9,1136.1 L1556.4,1131.9 L1559.8,1129.2 L1563.3,1135.4 L1566.8,1134.6 L1570.3,1129.3 L1573.7,1133.8 L1577.2,1136.8 L1580.7,1130.9 L1584.1,1132.1 L1587.6,1137.8 L1591.1,1133.7 L1594.5,1131.2 L1598.0,1137.5 L1601.5,1136.8 L1604.9,1131.6 L1608.4,1136.2 L1611.9,1139.4 L1615.3,1133.6 L1618.8,1134.9 L1622.3,1140.7 L1625.7,1136.8 L1629.2,1134.5 L1632.7,1141.3 L1636.1,1141.2 L1639.6,1136.6 L1643.1,1141.9 L1646.5,1145.6 L1650.0,1140.3 L1653.5,1142.0 L1656.9,1148.3 L1660.4,1144.8 L1663.9,1142.7 L1667.3,1149.5 L1670.8,1149.4 L1674.3,1144.7 L1677.7,1149.7 L1681.2,1153.4 L1684.7,1148.1 L1688.1,1149.8 L1691.6,1156.1 L1695.1,1152.6 L1698.5,1150.6 L1702.0,1157.5 L1705.5,1157.4 L1708.9,1152.7 L1712.4,1157.9 L1715.9,1161.6 L1719.3,1156.5 L1722.8,1158.3 L1726.3,1164.7 L1729.7,1161.3 L1733.2,1159.4 L1736.7,1166.4 L1740.1,1166.4 L1743.6,1161.9 L1747.1,1167.2 L1750.5,1171.0 L1754.0,1166.0 L1757.5,1167.9 L1761.0,1174.4 L1764.4,1171.1 L1767.9,1169.3 L1771.4,1176.5 L1774.8,1176.6 L1778.3,1172.2 L1781.8,1177.6 L1785.2,1181.5 L1788.7,1176.6 L1792.2,1178.7 L1795.6,1185.3 L1799.1,1182.1 L1802.6,1180.5 L1806.0,1187.8 L1809.5,1188.0 L1813.0,1183.8 L1816.4,1189.3 L1819.9,1193.4 L1823.4,1188.6 L1826.8,1190.9 L1830.3,1197.7 L1833.8,1194.7 L1837.2,1193.3 L1840.7,1200.7 L1844.2,1201.2 L1847.6,1197.2 L1851.1,1203.0 L1854.6,1207.3 L1858.0,1202.8 L1861.5,1205.3 L1865.0,1212.3 L1868.4,1209.6 L1871.9,1208.4 L1875.4,1216.1 L1878.8,1216.8 L1882.3,1213.0 L1885.8,1219.0 L1889.2,1223.6 L1892.7,1219.3 L1896.2,1222.0 L1899.6,1229.3 L1903.1,1226.8 L1906.6,1225.9 L1910.0,1233.9 L1913.5,1235.0 L1917.0,1231.5 L1920.4,1237.8 L1923.9,1242.7 L1927.4,1238.7 L1930.8,1241.8 L1934.3,1249.4 L1936.3,1249.0 L1942.6,1240.7 L1945.7,1232.0 L1947.5,1218.0 L1949.6,1197.0 L1949.8,1100.0 L1950.5,960.0 L1952.4,680.0 L1953.1,539.6 L1954.1,539.6 L1955.2,680.0 L1958.5,960.0 L1960.7,1100.0 L1962.1,1170.0 L1964.9,1211.0 L1968.4,1239.0 L1970.2,1260.0 L1971.2,1267.0 L1972.5,1269.8 L1975.9,1269.8 L1979.4,1278.8 L1982.9,1280.8 L1986.3,1278.0 L1989.8,1284.9 L1993.3,1290.5 L1996.7,1287.4 L2000.2,1291.7 L2003.7,1300.5 L2007.1,1299.3 L2010.6,1299.3 L2014.1,1308.1 L2017.5,1310.0 L2021.0,1307.2 L2024.5,1314.2 L2027.9,1319.7 L2031.4,1316.3 L2034.9,1319.8 L2038.3,1327.9 L2041.8,1326.2 L2045.3,1326.0 L2048.7,1334.6 L2052.2,1336.3 L2055.7,1333.4 L2059.1,1340.4 L2062.6,1345.8 L2066.1,1342.4 L2069.5,1346.0 L2073.0,1354.3 L2076.5,1352.7 L2079.9,1352.7 L2083.4,1361.5 L2086.9,1363.3 L2090.3,1360.5 L2093.8,1367.5 L2097.3,1373.0 L2100.7,1369.7 L2104.2,1373.4 L2107.7,1381.6 L2111.1,1380.2 L2114.6,1380.2 L2118.1,1389.3 L2121.5,1391.4 L2125.0,1389.0 L2128.5,1396.6 L2131.9,1402.8 L2135.4,1400.2 L2138.9,1404.7 L2142.4,1414.2 L2145.8,1414.2 L2149.3,1415.9 L2152.8,1426.5 L2156.2,1430.0 L2159.7,1428.9 L2163.2,1437.5 L2166.6,1444.7" stroke="#ff00ff" stroke-width="7.3"/>
</g>
<g font-family="Liberation Sans, Arial, sans-serif" font-size="75.5" fill="#000">
<text x="266" y="83.9" text-anchor="end">5</text>
<text x="266" y="357.9" text-anchor="end">-5</text>
<text x="266" y="632.0" text-anchor="end">-15</text>
<text x="266" y="906.0" text-anchor="end">-25</text>
<text x="266" y="1180.1" text-anchor="end">-35</text>
<text x="266" y="1454.1" text-anchor="end">-45</text>
<text x="326.7" y="1557.4" text-anchor="middle">1560</text>
<text x="708.1" y="1557.4" text-anchor="middle">1571</text>
<text x="1089.5" y="1557.4" text-anchor="middle">1582</text>
<text x="1470.9" y="1557.4" text-anchor="middle">1593</text>
<text x="1852.3" y="1557.4" text-anchor="middle">1604</text>
<text x="2233.7" y="1557.4" text-anchor="middle">1615</text>
<text x="1649.4" y="175" font-size="74.8">1565 ~ 1607 nm</text>
<text transform="translate(1280.6,1689.3) scale(1.0065,1)" text-anchor="middle">Wavelength (nm)</text>
<text transform="translate(93.8,745.3) rotate(-90) scale(0.987,1)" text-anchor="middle">Output Power (dBm)</text>
</g>
</svg>
</body></html>
